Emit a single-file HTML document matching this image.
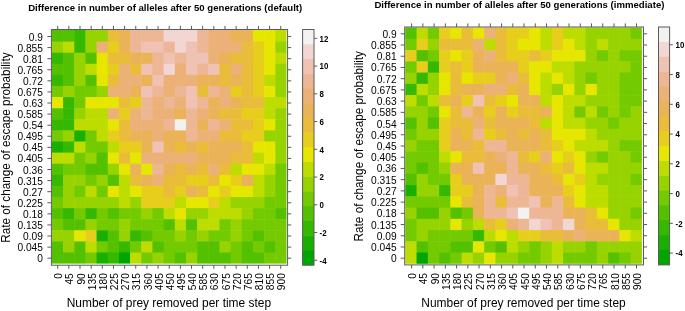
<!DOCTYPE html>
<html><head><meta charset="utf-8"><style>
html,body{margin:0;padding:0;background:#fff;width:685px;height:311px;overflow:hidden}
svg{display:block;filter:blur(0.4px)}
text{font-family:"Liberation Sans",sans-serif}
</style></head><body>
<svg width="685" height="311" viewBox="0 0 685 311">
<rect width="685" height="311" fill="#fff"/>
<rect x="51.90" y="30.00" width="11.67" height="12.10" fill="#53C100"/>
<rect x="63.07" y="30.00" width="11.67" height="12.10" fill="#53C100"/>
<rect x="74.24" y="30.00" width="11.67" height="12.10" fill="#35B800"/>
<rect x="85.41" y="30.00" width="11.67" height="12.10" fill="#97D300"/>
<rect x="96.59" y="30.00" width="11.67" height="12.10" fill="#97D300"/>
<rect x="107.76" y="30.00" width="11.67" height="12.10" fill="#E9BD3A"/>
<rect x="118.93" y="30.00" width="11.67" height="12.10" fill="#EAB358"/>
<rect x="130.10" y="30.00" width="11.67" height="12.10" fill="#EDB694"/>
<rect x="141.27" y="30.00" width="11.67" height="12.10" fill="#EDB694"/>
<rect x="152.44" y="30.00" width="11.67" height="12.10" fill="#EDB694"/>
<rect x="163.61" y="30.00" width="11.67" height="12.10" fill="#F1D6D3"/>
<rect x="174.79" y="30.00" width="11.67" height="12.10" fill="#F1D6D3"/>
<rect x="185.96" y="30.00" width="11.67" height="12.10" fill="#F1D6D3"/>
<rect x="197.13" y="30.00" width="11.67" height="12.10" fill="#EDB694"/>
<rect x="208.30" y="30.00" width="11.67" height="12.10" fill="#ECB176"/>
<rect x="219.47" y="30.00" width="11.67" height="12.10" fill="#ECB176"/>
<rect x="230.64" y="30.00" width="11.67" height="12.10" fill="#EAB358"/>
<rect x="241.81" y="30.00" width="11.67" height="12.10" fill="#EAB358"/>
<rect x="252.99" y="30.00" width="11.67" height="12.10" fill="#E6E600"/>
<rect x="264.16" y="30.00" width="11.67" height="12.10" fill="#E6E600"/>
<rect x="275.33" y="30.00" width="11.17" height="12.10" fill="#BDDC00"/>
<rect x="51.90" y="41.60" width="11.67" height="11.60" fill="#97D300"/>
<rect x="63.07" y="41.60" width="11.67" height="11.60" fill="#BDDC00"/>
<rect x="74.24" y="41.60" width="11.67" height="11.60" fill="#35B800"/>
<rect x="85.41" y="41.60" width="11.67" height="11.60" fill="#97D300"/>
<rect x="96.59" y="41.60" width="11.67" height="11.60" fill="#ECB176"/>
<rect x="107.76" y="41.60" width="11.67" height="11.60" fill="#E7CE1D"/>
<rect x="118.93" y="41.60" width="11.67" height="11.60" fill="#EAB358"/>
<rect x="130.10" y="41.60" width="11.67" height="11.60" fill="#EDB694"/>
<rect x="141.27" y="41.60" width="11.67" height="11.60" fill="#EFC2B3"/>
<rect x="152.44" y="41.60" width="11.67" height="11.60" fill="#EFC2B3"/>
<rect x="163.61" y="41.60" width="11.67" height="11.60" fill="#EDB694"/>
<rect x="174.79" y="41.60" width="11.67" height="11.60" fill="#F1D6D3"/>
<rect x="185.96" y="41.60" width="11.67" height="11.60" fill="#EFC2B3"/>
<rect x="197.13" y="41.60" width="11.67" height="11.60" fill="#EDB694"/>
<rect x="208.30" y="41.60" width="11.67" height="11.60" fill="#ECB176"/>
<rect x="219.47" y="41.60" width="11.67" height="11.60" fill="#ECB176"/>
<rect x="230.64" y="41.60" width="11.67" height="11.60" fill="#ECB176"/>
<rect x="241.81" y="41.60" width="11.67" height="11.60" fill="#E9BD3A"/>
<rect x="252.99" y="41.60" width="11.67" height="11.60" fill="#E7CE1D"/>
<rect x="264.16" y="41.60" width="11.67" height="11.60" fill="#E6E600"/>
<rect x="275.33" y="41.60" width="11.17" height="11.60" fill="#97D300"/>
<rect x="51.90" y="52.70" width="11.67" height="11.60" fill="#35B800"/>
<rect x="63.07" y="52.70" width="11.67" height="11.60" fill="#53C100"/>
<rect x="74.24" y="52.70" width="11.67" height="11.60" fill="#97D300"/>
<rect x="85.41" y="52.70" width="11.67" height="11.60" fill="#53C100"/>
<rect x="96.59" y="52.70" width="11.67" height="11.60" fill="#E6E600"/>
<rect x="107.76" y="52.70" width="11.67" height="11.60" fill="#E9BD3A"/>
<rect x="118.93" y="52.70" width="11.67" height="11.60" fill="#E9BD3A"/>
<rect x="130.10" y="52.70" width="11.67" height="11.60" fill="#EAB358"/>
<rect x="141.27" y="52.70" width="11.67" height="11.60" fill="#EAB358"/>
<rect x="152.44" y="52.70" width="11.67" height="11.60" fill="#EDB694"/>
<rect x="163.61" y="52.70" width="11.67" height="11.60" fill="#EFC2B3"/>
<rect x="174.79" y="52.70" width="11.67" height="11.60" fill="#EDB694"/>
<rect x="185.96" y="52.70" width="11.67" height="11.60" fill="#EFC2B3"/>
<rect x="197.13" y="52.70" width="11.67" height="11.60" fill="#EFC2B3"/>
<rect x="208.30" y="52.70" width="11.67" height="11.60" fill="#ECB176"/>
<rect x="219.47" y="52.70" width="11.67" height="11.60" fill="#EAB358"/>
<rect x="230.64" y="52.70" width="11.67" height="11.60" fill="#E9BD3A"/>
<rect x="241.81" y="52.70" width="11.67" height="11.60" fill="#E9BD3A"/>
<rect x="252.99" y="52.70" width="11.67" height="11.60" fill="#E7CE1D"/>
<rect x="264.16" y="52.70" width="11.67" height="11.60" fill="#E6E600"/>
<rect x="275.33" y="52.70" width="11.17" height="11.60" fill="#BDDC00"/>
<rect x="51.90" y="63.80" width="11.67" height="11.60" fill="#53C100"/>
<rect x="63.07" y="63.80" width="11.67" height="11.60" fill="#53C100"/>
<rect x="74.24" y="63.80" width="11.67" height="11.60" fill="#97D300"/>
<rect x="85.41" y="63.80" width="11.67" height="11.60" fill="#BDDC00"/>
<rect x="96.59" y="63.80" width="11.67" height="11.60" fill="#E6E600"/>
<rect x="107.76" y="63.80" width="11.67" height="11.60" fill="#E7CE1D"/>
<rect x="118.93" y="63.80" width="11.67" height="11.60" fill="#ECB176"/>
<rect x="130.10" y="63.80" width="11.67" height="11.60" fill="#E9BD3A"/>
<rect x="141.27" y="63.80" width="11.67" height="11.60" fill="#EFC2B3"/>
<rect x="152.44" y="63.80" width="11.67" height="11.60" fill="#EDB694"/>
<rect x="163.61" y="63.80" width="11.67" height="11.60" fill="#F1D6D3"/>
<rect x="174.79" y="63.80" width="11.67" height="11.60" fill="#ECB176"/>
<rect x="185.96" y="63.80" width="11.67" height="11.60" fill="#EFC2B3"/>
<rect x="197.13" y="63.80" width="11.67" height="11.60" fill="#EDB694"/>
<rect x="208.30" y="63.80" width="11.67" height="11.60" fill="#EFC2B3"/>
<rect x="219.47" y="63.80" width="11.67" height="11.60" fill="#E9BD3A"/>
<rect x="230.64" y="63.80" width="11.67" height="11.60" fill="#ECB176"/>
<rect x="241.81" y="63.80" width="11.67" height="11.60" fill="#E9BD3A"/>
<rect x="252.99" y="63.80" width="11.67" height="11.60" fill="#E7CE1D"/>
<rect x="264.16" y="63.80" width="11.67" height="11.60" fill="#E6E600"/>
<rect x="275.33" y="63.80" width="11.17" height="11.60" fill="#97D300"/>
<rect x="51.90" y="74.90" width="11.67" height="11.60" fill="#35B800"/>
<rect x="63.07" y="74.90" width="11.67" height="11.60" fill="#53C100"/>
<rect x="74.24" y="74.90" width="11.67" height="11.60" fill="#97D300"/>
<rect x="85.41" y="74.90" width="11.67" height="11.60" fill="#53C100"/>
<rect x="96.59" y="74.90" width="11.67" height="11.60" fill="#E6E600"/>
<rect x="107.76" y="74.90" width="11.67" height="11.60" fill="#E9BD3A"/>
<rect x="118.93" y="74.90" width="11.67" height="11.60" fill="#ECB176"/>
<rect x="130.10" y="74.90" width="11.67" height="11.60" fill="#ECB176"/>
<rect x="141.27" y="74.90" width="11.67" height="11.60" fill="#EAB358"/>
<rect x="152.44" y="74.90" width="11.67" height="11.60" fill="#EFC2B3"/>
<rect x="163.61" y="74.90" width="11.67" height="11.60" fill="#ECB176"/>
<rect x="174.79" y="74.90" width="11.67" height="11.60" fill="#ECB176"/>
<rect x="185.96" y="74.90" width="11.67" height="11.60" fill="#ECB176"/>
<rect x="197.13" y="74.90" width="11.67" height="11.60" fill="#EAB358"/>
<rect x="208.30" y="74.90" width="11.67" height="11.60" fill="#EAB358"/>
<rect x="219.47" y="74.90" width="11.67" height="11.60" fill="#E9BD3A"/>
<rect x="230.64" y="74.90" width="11.67" height="11.60" fill="#EAB358"/>
<rect x="241.81" y="74.90" width="11.67" height="11.60" fill="#E9BD3A"/>
<rect x="252.99" y="74.90" width="11.67" height="11.60" fill="#E7CE1D"/>
<rect x="264.16" y="74.90" width="11.67" height="11.60" fill="#BDDC00"/>
<rect x="275.33" y="74.90" width="11.17" height="11.60" fill="#97D300"/>
<rect x="51.90" y="86.00" width="11.67" height="11.60" fill="#74CA00"/>
<rect x="63.07" y="86.00" width="11.67" height="11.60" fill="#97D300"/>
<rect x="74.24" y="86.00" width="11.67" height="11.60" fill="#74CA00"/>
<rect x="85.41" y="86.00" width="11.67" height="11.60" fill="#74CA00"/>
<rect x="96.59" y="86.00" width="11.67" height="11.60" fill="#97D300"/>
<rect x="107.76" y="86.00" width="11.67" height="11.60" fill="#ECB176"/>
<rect x="118.93" y="86.00" width="11.67" height="11.60" fill="#ECB176"/>
<rect x="130.10" y="86.00" width="11.67" height="11.60" fill="#EAB358"/>
<rect x="141.27" y="86.00" width="11.67" height="11.60" fill="#EFC2B3"/>
<rect x="152.44" y="86.00" width="11.67" height="11.60" fill="#EDB694"/>
<rect x="163.61" y="86.00" width="11.67" height="11.60" fill="#ECB176"/>
<rect x="174.79" y="86.00" width="11.67" height="11.60" fill="#EDB694"/>
<rect x="185.96" y="86.00" width="11.67" height="11.60" fill="#EFC2B3"/>
<rect x="197.13" y="86.00" width="11.67" height="11.60" fill="#E9BD3A"/>
<rect x="208.30" y="86.00" width="11.67" height="11.60" fill="#EDB694"/>
<rect x="219.47" y="86.00" width="11.67" height="11.60" fill="#ECB176"/>
<rect x="230.64" y="86.00" width="11.67" height="11.60" fill="#E7CE1D"/>
<rect x="241.81" y="86.00" width="11.67" height="11.60" fill="#E9BD3A"/>
<rect x="252.99" y="86.00" width="11.67" height="11.60" fill="#E7CE1D"/>
<rect x="264.16" y="86.00" width="11.67" height="11.60" fill="#E6E600"/>
<rect x="275.33" y="86.00" width="11.17" height="11.60" fill="#97D300"/>
<rect x="51.90" y="97.10" width="11.67" height="11.60" fill="#E6E600"/>
<rect x="63.07" y="97.10" width="11.67" height="11.60" fill="#35B800"/>
<rect x="74.24" y="97.10" width="11.67" height="11.60" fill="#74CA00"/>
<rect x="85.41" y="97.10" width="11.67" height="11.60" fill="#E6E600"/>
<rect x="96.59" y="97.10" width="11.67" height="11.60" fill="#E6E600"/>
<rect x="107.76" y="97.10" width="11.67" height="11.60" fill="#E6E600"/>
<rect x="118.93" y="97.10" width="11.67" height="11.60" fill="#E9BD3A"/>
<rect x="130.10" y="97.10" width="11.67" height="11.60" fill="#E7CE1D"/>
<rect x="141.27" y="97.10" width="11.67" height="11.60" fill="#EDB694"/>
<rect x="152.44" y="97.10" width="11.67" height="11.60" fill="#ECB176"/>
<rect x="163.61" y="97.10" width="11.67" height="11.60" fill="#EDB694"/>
<rect x="174.79" y="97.10" width="11.67" height="11.60" fill="#ECB176"/>
<rect x="185.96" y="97.10" width="11.67" height="11.60" fill="#EFC2B3"/>
<rect x="197.13" y="97.10" width="11.67" height="11.60" fill="#EDB694"/>
<rect x="208.30" y="97.10" width="11.67" height="11.60" fill="#EAB358"/>
<rect x="219.47" y="97.10" width="11.67" height="11.60" fill="#ECB176"/>
<rect x="230.64" y="97.10" width="11.67" height="11.60" fill="#EAB358"/>
<rect x="241.81" y="97.10" width="11.67" height="11.60" fill="#E9BD3A"/>
<rect x="252.99" y="97.10" width="11.67" height="11.60" fill="#E9BD3A"/>
<rect x="264.16" y="97.10" width="11.67" height="11.60" fill="#BDDC00"/>
<rect x="275.33" y="97.10" width="11.17" height="11.60" fill="#BDDC00"/>
<rect x="51.90" y="108.20" width="11.67" height="11.60" fill="#53C100"/>
<rect x="63.07" y="108.20" width="11.67" height="11.60" fill="#35B800"/>
<rect x="74.24" y="108.20" width="11.67" height="11.60" fill="#97D300"/>
<rect x="85.41" y="108.20" width="11.67" height="11.60" fill="#BDDC00"/>
<rect x="96.59" y="108.20" width="11.67" height="11.60" fill="#BDDC00"/>
<rect x="107.76" y="108.20" width="11.67" height="11.60" fill="#ECB176"/>
<rect x="118.93" y="108.20" width="11.67" height="11.60" fill="#E7CE1D"/>
<rect x="130.10" y="108.20" width="11.67" height="11.60" fill="#ECB176"/>
<rect x="141.27" y="108.20" width="11.67" height="11.60" fill="#EDB694"/>
<rect x="152.44" y="108.20" width="11.67" height="11.60" fill="#ECB176"/>
<rect x="163.61" y="108.20" width="11.67" height="11.60" fill="#ECB176"/>
<rect x="174.79" y="108.20" width="11.67" height="11.60" fill="#EAB358"/>
<rect x="185.96" y="108.20" width="11.67" height="11.60" fill="#EDB694"/>
<rect x="197.13" y="108.20" width="11.67" height="11.60" fill="#ECB176"/>
<rect x="208.30" y="108.20" width="11.67" height="11.60" fill="#EAB358"/>
<rect x="219.47" y="108.20" width="11.67" height="11.60" fill="#E9BD3A"/>
<rect x="230.64" y="108.20" width="11.67" height="11.60" fill="#E9BD3A"/>
<rect x="241.81" y="108.20" width="11.67" height="11.60" fill="#E7CE1D"/>
<rect x="252.99" y="108.20" width="11.67" height="11.60" fill="#E7CE1D"/>
<rect x="264.16" y="108.20" width="11.67" height="11.60" fill="#BDDC00"/>
<rect x="275.33" y="108.20" width="11.17" height="11.60" fill="#97D300"/>
<rect x="51.90" y="119.30" width="11.67" height="11.60" fill="#35B800"/>
<rect x="63.07" y="119.30" width="11.67" height="11.60" fill="#35B800"/>
<rect x="74.24" y="119.30" width="11.67" height="11.60" fill="#BDDC00"/>
<rect x="85.41" y="119.30" width="11.67" height="11.60" fill="#BDDC00"/>
<rect x="96.59" y="119.30" width="11.67" height="11.60" fill="#BDDC00"/>
<rect x="107.76" y="119.30" width="11.67" height="11.60" fill="#E6E600"/>
<rect x="118.93" y="119.30" width="11.67" height="11.60" fill="#E9BD3A"/>
<rect x="130.10" y="119.30" width="11.67" height="11.60" fill="#ECB176"/>
<rect x="141.27" y="119.30" width="11.67" height="11.60" fill="#ECB176"/>
<rect x="152.44" y="119.30" width="11.67" height="11.60" fill="#ECB176"/>
<rect x="163.61" y="119.30" width="11.67" height="11.60" fill="#EDB694"/>
<rect x="174.79" y="119.30" width="11.67" height="11.60" fill="#F2F2F2"/>
<rect x="185.96" y="119.30" width="11.67" height="11.60" fill="#EDB694"/>
<rect x="197.13" y="119.30" width="11.67" height="11.60" fill="#EAB358"/>
<rect x="208.30" y="119.30" width="11.67" height="11.60" fill="#EDB694"/>
<rect x="219.47" y="119.30" width="11.67" height="11.60" fill="#ECB176"/>
<rect x="230.64" y="119.30" width="11.67" height="11.60" fill="#E9BD3A"/>
<rect x="241.81" y="119.30" width="11.67" height="11.60" fill="#E9BD3A"/>
<rect x="252.99" y="119.30" width="11.67" height="11.60" fill="#E7CE1D"/>
<rect x="264.16" y="119.30" width="11.67" height="11.60" fill="#E6E600"/>
<rect x="275.33" y="119.30" width="11.17" height="11.60" fill="#97D300"/>
<rect x="51.90" y="130.40" width="11.67" height="11.60" fill="#74CA00"/>
<rect x="63.07" y="130.40" width="11.67" height="11.60" fill="#97D300"/>
<rect x="74.24" y="130.40" width="11.67" height="11.60" fill="#19AF00"/>
<rect x="85.41" y="130.40" width="11.67" height="11.60" fill="#74CA00"/>
<rect x="96.59" y="130.40" width="11.67" height="11.60" fill="#BDDC00"/>
<rect x="107.76" y="130.40" width="11.67" height="11.60" fill="#E7CE1D"/>
<rect x="118.93" y="130.40" width="11.67" height="11.60" fill="#E9BD3A"/>
<rect x="130.10" y="130.40" width="11.67" height="11.60" fill="#EAB358"/>
<rect x="141.27" y="130.40" width="11.67" height="11.60" fill="#EAB358"/>
<rect x="152.44" y="130.40" width="11.67" height="11.60" fill="#ECB176"/>
<rect x="163.61" y="130.40" width="11.67" height="11.60" fill="#EAB358"/>
<rect x="174.79" y="130.40" width="11.67" height="11.60" fill="#EAB358"/>
<rect x="185.96" y="130.40" width="11.67" height="11.60" fill="#EDB694"/>
<rect x="197.13" y="130.40" width="11.67" height="11.60" fill="#ECB176"/>
<rect x="208.30" y="130.40" width="11.67" height="11.60" fill="#ECB176"/>
<rect x="219.47" y="130.40" width="11.67" height="11.60" fill="#E9BD3A"/>
<rect x="230.64" y="130.40" width="11.67" height="11.60" fill="#E9BD3A"/>
<rect x="241.81" y="130.40" width="11.67" height="11.60" fill="#E7CE1D"/>
<rect x="252.99" y="130.40" width="11.67" height="11.60" fill="#E7CE1D"/>
<rect x="264.16" y="130.40" width="11.67" height="11.60" fill="#97D300"/>
<rect x="275.33" y="130.40" width="11.17" height="11.60" fill="#97D300"/>
<rect x="51.90" y="141.50" width="11.67" height="11.60" fill="#19AF00"/>
<rect x="63.07" y="141.50" width="11.67" height="11.60" fill="#35B800"/>
<rect x="74.24" y="141.50" width="11.67" height="11.60" fill="#BDDC00"/>
<rect x="85.41" y="141.50" width="11.67" height="11.60" fill="#74CA00"/>
<rect x="96.59" y="141.50" width="11.67" height="11.60" fill="#74CA00"/>
<rect x="107.76" y="141.50" width="11.67" height="11.60" fill="#BDDC00"/>
<rect x="118.93" y="141.50" width="11.67" height="11.60" fill="#E7CE1D"/>
<rect x="130.10" y="141.50" width="11.67" height="11.60" fill="#E7CE1D"/>
<rect x="141.27" y="141.50" width="11.67" height="11.60" fill="#EAB358"/>
<rect x="152.44" y="141.50" width="11.67" height="11.60" fill="#EFC2B3"/>
<rect x="163.61" y="141.50" width="11.67" height="11.60" fill="#EAB358"/>
<rect x="174.79" y="141.50" width="11.67" height="11.60" fill="#E9BD3A"/>
<rect x="185.96" y="141.50" width="11.67" height="11.60" fill="#EAB358"/>
<rect x="197.13" y="141.50" width="11.67" height="11.60" fill="#E9BD3A"/>
<rect x="208.30" y="141.50" width="11.67" height="11.60" fill="#EAB358"/>
<rect x="219.47" y="141.50" width="11.67" height="11.60" fill="#EAB358"/>
<rect x="230.64" y="141.50" width="11.67" height="11.60" fill="#EAB358"/>
<rect x="241.81" y="141.50" width="11.67" height="11.60" fill="#E9BD3A"/>
<rect x="252.99" y="141.50" width="11.67" height="11.60" fill="#E6E600"/>
<rect x="264.16" y="141.50" width="11.67" height="11.60" fill="#E6E600"/>
<rect x="275.33" y="141.50" width="11.17" height="11.60" fill="#97D300"/>
<rect x="51.90" y="152.60" width="11.67" height="11.60" fill="#BDDC00"/>
<rect x="63.07" y="152.60" width="11.67" height="11.60" fill="#BDDC00"/>
<rect x="74.24" y="152.60" width="11.67" height="11.60" fill="#74CA00"/>
<rect x="85.41" y="152.60" width="11.67" height="11.60" fill="#97D300"/>
<rect x="96.59" y="152.60" width="11.67" height="11.60" fill="#53C100"/>
<rect x="107.76" y="152.60" width="11.67" height="11.60" fill="#E6E600"/>
<rect x="118.93" y="152.60" width="11.67" height="11.60" fill="#E9BD3A"/>
<rect x="130.10" y="152.60" width="11.67" height="11.60" fill="#E6E600"/>
<rect x="141.27" y="152.60" width="11.67" height="11.60" fill="#ECB176"/>
<rect x="152.44" y="152.60" width="11.67" height="11.60" fill="#ECB176"/>
<rect x="163.61" y="152.60" width="11.67" height="11.60" fill="#ECB176"/>
<rect x="174.79" y="152.60" width="11.67" height="11.60" fill="#ECB176"/>
<rect x="185.96" y="152.60" width="11.67" height="11.60" fill="#ECB176"/>
<rect x="197.13" y="152.60" width="11.67" height="11.60" fill="#EAB358"/>
<rect x="208.30" y="152.60" width="11.67" height="11.60" fill="#EAB358"/>
<rect x="219.47" y="152.60" width="11.67" height="11.60" fill="#EAB358"/>
<rect x="230.64" y="152.60" width="11.67" height="11.60" fill="#E9BD3A"/>
<rect x="241.81" y="152.60" width="11.67" height="11.60" fill="#E9BD3A"/>
<rect x="252.99" y="152.60" width="11.67" height="11.60" fill="#BDDC00"/>
<rect x="264.16" y="152.60" width="11.67" height="11.60" fill="#E6E600"/>
<rect x="275.33" y="152.60" width="11.17" height="11.60" fill="#97D300"/>
<rect x="51.90" y="163.70" width="11.67" height="11.60" fill="#53C100"/>
<rect x="63.07" y="163.70" width="11.67" height="11.60" fill="#74CA00"/>
<rect x="74.24" y="163.70" width="11.67" height="11.60" fill="#74CA00"/>
<rect x="85.41" y="163.70" width="11.67" height="11.60" fill="#53C100"/>
<rect x="96.59" y="163.70" width="11.67" height="11.60" fill="#53C100"/>
<rect x="107.76" y="163.70" width="11.67" height="11.60" fill="#97D300"/>
<rect x="118.93" y="163.70" width="11.67" height="11.60" fill="#E6E600"/>
<rect x="130.10" y="163.70" width="11.67" height="11.60" fill="#EAB358"/>
<rect x="141.27" y="163.70" width="11.67" height="11.60" fill="#E6E600"/>
<rect x="152.44" y="163.70" width="11.67" height="11.60" fill="#EDB694"/>
<rect x="163.61" y="163.70" width="11.67" height="11.60" fill="#EAB358"/>
<rect x="174.79" y="163.70" width="11.67" height="11.60" fill="#E9BD3A"/>
<rect x="185.96" y="163.70" width="11.67" height="11.60" fill="#EAB358"/>
<rect x="197.13" y="163.70" width="11.67" height="11.60" fill="#E9BD3A"/>
<rect x="208.30" y="163.70" width="11.67" height="11.60" fill="#ECB176"/>
<rect x="219.47" y="163.70" width="11.67" height="11.60" fill="#E9BD3A"/>
<rect x="230.64" y="163.70" width="11.67" height="11.60" fill="#BDDC00"/>
<rect x="241.81" y="163.70" width="11.67" height="11.60" fill="#E6E600"/>
<rect x="252.99" y="163.70" width="11.67" height="11.60" fill="#E6E600"/>
<rect x="264.16" y="163.70" width="11.67" height="11.60" fill="#BDDC00"/>
<rect x="275.33" y="163.70" width="11.17" height="11.60" fill="#74CA00"/>
<rect x="51.90" y="174.80" width="11.67" height="11.60" fill="#35B800"/>
<rect x="63.07" y="174.80" width="11.67" height="11.60" fill="#97D300"/>
<rect x="74.24" y="174.80" width="11.67" height="11.60" fill="#97D300"/>
<rect x="85.41" y="174.80" width="11.67" height="11.60" fill="#74CA00"/>
<rect x="96.59" y="174.80" width="11.67" height="11.60" fill="#97D300"/>
<rect x="107.76" y="174.80" width="11.67" height="11.60" fill="#53C100"/>
<rect x="118.93" y="174.80" width="11.67" height="11.60" fill="#BDDC00"/>
<rect x="130.10" y="174.80" width="11.67" height="11.60" fill="#E9BD3A"/>
<rect x="141.27" y="174.80" width="11.67" height="11.60" fill="#EAB358"/>
<rect x="152.44" y="174.80" width="11.67" height="11.60" fill="#ECB176"/>
<rect x="163.61" y="174.80" width="11.67" height="11.60" fill="#E9BD3A"/>
<rect x="174.79" y="174.80" width="11.67" height="11.60" fill="#E9BD3A"/>
<rect x="185.96" y="174.80" width="11.67" height="11.60" fill="#E7CE1D"/>
<rect x="197.13" y="174.80" width="11.67" height="11.60" fill="#E7CE1D"/>
<rect x="208.30" y="174.80" width="11.67" height="11.60" fill="#E9BD3A"/>
<rect x="219.47" y="174.80" width="11.67" height="11.60" fill="#E6E600"/>
<rect x="230.64" y="174.80" width="11.67" height="11.60" fill="#E7CE1D"/>
<rect x="241.81" y="174.80" width="11.67" height="11.60" fill="#EAB358"/>
<rect x="252.99" y="174.80" width="11.67" height="11.60" fill="#BDDC00"/>
<rect x="264.16" y="174.80" width="11.67" height="11.60" fill="#97D300"/>
<rect x="275.33" y="174.80" width="11.17" height="11.60" fill="#74CA00"/>
<rect x="51.90" y="185.90" width="11.67" height="11.60" fill="#53C100"/>
<rect x="63.07" y="185.90" width="11.67" height="11.60" fill="#97D300"/>
<rect x="74.24" y="185.90" width="11.67" height="11.60" fill="#74CA00"/>
<rect x="85.41" y="185.90" width="11.67" height="11.60" fill="#BDDC00"/>
<rect x="96.59" y="185.90" width="11.67" height="11.60" fill="#74CA00"/>
<rect x="107.76" y="185.90" width="11.67" height="11.60" fill="#E6E600"/>
<rect x="118.93" y="185.90" width="11.67" height="11.60" fill="#BDDC00"/>
<rect x="130.10" y="185.90" width="11.67" height="11.60" fill="#E6E600"/>
<rect x="141.27" y="185.90" width="11.67" height="11.60" fill="#E7CE1D"/>
<rect x="152.44" y="185.90" width="11.67" height="11.60" fill="#E7CE1D"/>
<rect x="163.61" y="185.90" width="11.67" height="11.60" fill="#E9BD3A"/>
<rect x="174.79" y="185.90" width="11.67" height="11.60" fill="#E7CE1D"/>
<rect x="185.96" y="185.90" width="11.67" height="11.60" fill="#EAB358"/>
<rect x="197.13" y="185.90" width="11.67" height="11.60" fill="#E9BD3A"/>
<rect x="208.30" y="185.90" width="11.67" height="11.60" fill="#E6E600"/>
<rect x="219.47" y="185.90" width="11.67" height="11.60" fill="#E7CE1D"/>
<rect x="230.64" y="185.90" width="11.67" height="11.60" fill="#E6E600"/>
<rect x="241.81" y="185.90" width="11.67" height="11.60" fill="#E6E600"/>
<rect x="252.99" y="185.90" width="11.67" height="11.60" fill="#BDDC00"/>
<rect x="264.16" y="185.90" width="11.67" height="11.60" fill="#97D300"/>
<rect x="275.33" y="185.90" width="11.17" height="11.60" fill="#74CA00"/>
<rect x="51.90" y="197.00" width="11.67" height="11.60" fill="#74CA00"/>
<rect x="63.07" y="197.00" width="11.67" height="11.60" fill="#97D300"/>
<rect x="74.24" y="197.00" width="11.67" height="11.60" fill="#97D300"/>
<rect x="85.41" y="197.00" width="11.67" height="11.60" fill="#97D300"/>
<rect x="96.59" y="197.00" width="11.67" height="11.60" fill="#97D300"/>
<rect x="107.76" y="197.00" width="11.67" height="11.60" fill="#97D300"/>
<rect x="118.93" y="197.00" width="11.67" height="11.60" fill="#BDDC00"/>
<rect x="130.10" y="197.00" width="11.67" height="11.60" fill="#97D300"/>
<rect x="141.27" y="197.00" width="11.67" height="11.60" fill="#E7CE1D"/>
<rect x="152.44" y="197.00" width="11.67" height="11.60" fill="#E7CE1D"/>
<rect x="163.61" y="197.00" width="11.67" height="11.60" fill="#E7CE1D"/>
<rect x="174.79" y="197.00" width="11.67" height="11.60" fill="#BDDC00"/>
<rect x="185.96" y="197.00" width="11.67" height="11.60" fill="#E6E600"/>
<rect x="197.13" y="197.00" width="11.67" height="11.60" fill="#E6E600"/>
<rect x="208.30" y="197.00" width="11.67" height="11.60" fill="#E7CE1D"/>
<rect x="219.47" y="197.00" width="11.67" height="11.60" fill="#BDDC00"/>
<rect x="230.64" y="197.00" width="11.67" height="11.60" fill="#97D300"/>
<rect x="241.81" y="197.00" width="11.67" height="11.60" fill="#97D300"/>
<rect x="252.99" y="197.00" width="11.67" height="11.60" fill="#97D300"/>
<rect x="264.16" y="197.00" width="11.67" height="11.60" fill="#74CA00"/>
<rect x="275.33" y="197.00" width="11.17" height="11.60" fill="#74CA00"/>
<rect x="51.90" y="208.10" width="11.67" height="11.60" fill="#53C100"/>
<rect x="63.07" y="208.10" width="11.67" height="11.60" fill="#35B800"/>
<rect x="74.24" y="208.10" width="11.67" height="11.60" fill="#74CA00"/>
<rect x="85.41" y="208.10" width="11.67" height="11.60" fill="#35B800"/>
<rect x="96.59" y="208.10" width="11.67" height="11.60" fill="#74CA00"/>
<rect x="107.76" y="208.10" width="11.67" height="11.60" fill="#53C100"/>
<rect x="118.93" y="208.10" width="11.67" height="11.60" fill="#74CA00"/>
<rect x="130.10" y="208.10" width="11.67" height="11.60" fill="#74CA00"/>
<rect x="141.27" y="208.10" width="11.67" height="11.60" fill="#97D300"/>
<rect x="152.44" y="208.10" width="11.67" height="11.60" fill="#74CA00"/>
<rect x="163.61" y="208.10" width="11.67" height="11.60" fill="#BDDC00"/>
<rect x="174.79" y="208.10" width="11.67" height="11.60" fill="#E6E600"/>
<rect x="185.96" y="208.10" width="11.67" height="11.60" fill="#97D300"/>
<rect x="197.13" y="208.10" width="11.67" height="11.60" fill="#97D300"/>
<rect x="208.30" y="208.10" width="11.67" height="11.60" fill="#BDDC00"/>
<rect x="219.47" y="208.10" width="11.67" height="11.60" fill="#BDDC00"/>
<rect x="230.64" y="208.10" width="11.67" height="11.60" fill="#BDDC00"/>
<rect x="241.81" y="208.10" width="11.67" height="11.60" fill="#97D300"/>
<rect x="252.99" y="208.10" width="11.67" height="11.60" fill="#74CA00"/>
<rect x="264.16" y="208.10" width="11.67" height="11.60" fill="#74CA00"/>
<rect x="275.33" y="208.10" width="11.17" height="11.60" fill="#53C100"/>
<rect x="51.90" y="219.20" width="11.67" height="11.60" fill="#74CA00"/>
<rect x="63.07" y="219.20" width="11.67" height="11.60" fill="#53C100"/>
<rect x="74.24" y="219.20" width="11.67" height="11.60" fill="#53C100"/>
<rect x="85.41" y="219.20" width="11.67" height="11.60" fill="#97D300"/>
<rect x="96.59" y="219.20" width="11.67" height="11.60" fill="#74CA00"/>
<rect x="107.76" y="219.20" width="11.67" height="11.60" fill="#74CA00"/>
<rect x="118.93" y="219.20" width="11.67" height="11.60" fill="#97D300"/>
<rect x="130.10" y="219.20" width="11.67" height="11.60" fill="#74CA00"/>
<rect x="141.27" y="219.20" width="11.67" height="11.60" fill="#74CA00"/>
<rect x="152.44" y="219.20" width="11.67" height="11.60" fill="#74CA00"/>
<rect x="163.61" y="219.20" width="11.67" height="11.60" fill="#53C100"/>
<rect x="174.79" y="219.20" width="11.67" height="11.60" fill="#BDDC00"/>
<rect x="185.96" y="219.20" width="11.67" height="11.60" fill="#53C100"/>
<rect x="197.13" y="219.20" width="11.67" height="11.60" fill="#BDDC00"/>
<rect x="208.30" y="219.20" width="11.67" height="11.60" fill="#BDDC00"/>
<rect x="219.47" y="219.20" width="11.67" height="11.60" fill="#74CA00"/>
<rect x="230.64" y="219.20" width="11.67" height="11.60" fill="#97D300"/>
<rect x="241.81" y="219.20" width="11.67" height="11.60" fill="#74CA00"/>
<rect x="252.99" y="219.20" width="11.67" height="11.60" fill="#74CA00"/>
<rect x="264.16" y="219.20" width="11.67" height="11.60" fill="#74CA00"/>
<rect x="275.33" y="219.20" width="11.17" height="11.60" fill="#74CA00"/>
<rect x="51.90" y="230.30" width="11.67" height="11.60" fill="#97D300"/>
<rect x="63.07" y="230.30" width="11.67" height="11.60" fill="#97D300"/>
<rect x="74.24" y="230.30" width="11.67" height="11.60" fill="#E6E600"/>
<rect x="85.41" y="230.30" width="11.67" height="11.60" fill="#E7CE1D"/>
<rect x="96.59" y="230.30" width="11.67" height="11.60" fill="#19AF00"/>
<rect x="107.76" y="230.30" width="11.67" height="11.60" fill="#53C100"/>
<rect x="118.93" y="230.30" width="11.67" height="11.60" fill="#97D300"/>
<rect x="130.10" y="230.30" width="11.67" height="11.60" fill="#35B800"/>
<rect x="141.27" y="230.30" width="11.67" height="11.60" fill="#53C100"/>
<rect x="152.44" y="230.30" width="11.67" height="11.60" fill="#74CA00"/>
<rect x="163.61" y="230.30" width="11.67" height="11.60" fill="#74CA00"/>
<rect x="174.79" y="230.30" width="11.67" height="11.60" fill="#97D300"/>
<rect x="185.96" y="230.30" width="11.67" height="11.60" fill="#74CA00"/>
<rect x="197.13" y="230.30" width="11.67" height="11.60" fill="#97D300"/>
<rect x="208.30" y="230.30" width="11.67" height="11.60" fill="#74CA00"/>
<rect x="219.47" y="230.30" width="11.67" height="11.60" fill="#74CA00"/>
<rect x="230.64" y="230.30" width="11.67" height="11.60" fill="#97D300"/>
<rect x="241.81" y="230.30" width="11.67" height="11.60" fill="#74CA00"/>
<rect x="252.99" y="230.30" width="11.67" height="11.60" fill="#53C100"/>
<rect x="264.16" y="230.30" width="11.67" height="11.60" fill="#74CA00"/>
<rect x="275.33" y="230.30" width="11.17" height="11.60" fill="#74CA00"/>
<rect x="51.90" y="241.40" width="11.67" height="11.60" fill="#53C100"/>
<rect x="63.07" y="241.40" width="11.67" height="11.60" fill="#97D300"/>
<rect x="74.24" y="241.40" width="11.67" height="11.60" fill="#53C100"/>
<rect x="85.41" y="241.40" width="11.67" height="11.60" fill="#BDDC00"/>
<rect x="96.59" y="241.40" width="11.67" height="11.60" fill="#74CA00"/>
<rect x="107.76" y="241.40" width="11.67" height="11.60" fill="#53C100"/>
<rect x="118.93" y="241.40" width="11.67" height="11.60" fill="#35B800"/>
<rect x="130.10" y="241.40" width="11.67" height="11.60" fill="#74CA00"/>
<rect x="141.27" y="241.40" width="11.67" height="11.60" fill="#BDDC00"/>
<rect x="152.44" y="241.40" width="11.67" height="11.60" fill="#53C100"/>
<rect x="163.61" y="241.40" width="11.67" height="11.60" fill="#74CA00"/>
<rect x="174.79" y="241.40" width="11.67" height="11.60" fill="#74CA00"/>
<rect x="185.96" y="241.40" width="11.67" height="11.60" fill="#74CA00"/>
<rect x="197.13" y="241.40" width="11.67" height="11.60" fill="#53C100"/>
<rect x="208.30" y="241.40" width="11.67" height="11.60" fill="#53C100"/>
<rect x="219.47" y="241.40" width="11.67" height="11.60" fill="#97D300"/>
<rect x="230.64" y="241.40" width="11.67" height="11.60" fill="#74CA00"/>
<rect x="241.81" y="241.40" width="11.67" height="11.60" fill="#53C100"/>
<rect x="252.99" y="241.40" width="11.67" height="11.60" fill="#74CA00"/>
<rect x="264.16" y="241.40" width="11.67" height="11.60" fill="#53C100"/>
<rect x="275.33" y="241.40" width="11.17" height="11.60" fill="#74CA00"/>
<rect x="51.90" y="252.50" width="11.67" height="11.10" fill="#53C100"/>
<rect x="63.07" y="252.50" width="11.67" height="11.10" fill="#53C100"/>
<rect x="74.24" y="252.50" width="11.67" height="11.10" fill="#53C100"/>
<rect x="85.41" y="252.50" width="11.67" height="11.10" fill="#74CA00"/>
<rect x="96.59" y="252.50" width="11.67" height="11.10" fill="#19AF00"/>
<rect x="107.76" y="252.50" width="11.67" height="11.10" fill="#35B800"/>
<rect x="118.93" y="252.50" width="11.67" height="11.10" fill="#00A600"/>
<rect x="130.10" y="252.50" width="11.67" height="11.10" fill="#BDDC00"/>
<rect x="141.27" y="252.50" width="11.67" height="11.10" fill="#74CA00"/>
<rect x="152.44" y="252.50" width="11.67" height="11.10" fill="#97D300"/>
<rect x="163.61" y="252.50" width="11.67" height="11.10" fill="#74CA00"/>
<rect x="174.79" y="252.50" width="11.67" height="11.10" fill="#53C100"/>
<rect x="185.96" y="252.50" width="11.67" height="11.10" fill="#97D300"/>
<rect x="197.13" y="252.50" width="11.67" height="11.10" fill="#53C100"/>
<rect x="208.30" y="252.50" width="11.67" height="11.10" fill="#53C100"/>
<rect x="219.47" y="252.50" width="11.67" height="11.10" fill="#53C100"/>
<rect x="230.64" y="252.50" width="11.67" height="11.10" fill="#74CA00"/>
<rect x="241.81" y="252.50" width="11.67" height="11.10" fill="#53C100"/>
<rect x="252.99" y="252.50" width="11.67" height="11.10" fill="#53C100"/>
<rect x="264.16" y="252.50" width="11.67" height="11.10" fill="#74CA00"/>
<rect x="275.33" y="252.50" width="11.17" height="11.10" fill="#74CA00"/>
<rect x="51.40" y="29.50" width="236.20" height="235.70" fill="none" stroke="#5a5a5a" stroke-width="1"/>
<path d="M57.70 29.50V25.90M57.70 265.20V268.80M51.40 36.50H47.40M287.60 36.50H291.20M68.85 29.50V25.90M68.85 265.20V268.80M51.40 47.59H47.40M287.60 47.59H291.20M80.00 29.50V25.90M80.00 265.20V268.80M51.40 58.67H47.40M287.60 58.67H291.20M91.16 29.50V25.90M91.16 265.20V268.80M51.40 69.75H47.40M287.60 69.75H291.20M102.31 29.50V25.90M102.31 265.20V268.80M51.40 80.84H47.40M287.60 80.84H291.20M113.46 29.50V25.90M113.46 265.20V268.80M51.40 91.93H47.40M287.60 91.93H291.20M124.61 29.50V25.90M124.61 265.20V268.80M51.40 103.01H47.40M287.60 103.01H291.20M135.76 29.50V25.90M135.76 265.20V268.80M51.40 114.09H47.40M287.60 114.09H291.20M146.92 29.50V25.90M146.92 265.20V268.80M51.40 125.18H47.40M287.60 125.18H291.20M158.07 29.50V25.90M158.07 265.20V268.80M51.40 136.27H47.40M287.60 136.27H291.20M169.22 29.50V25.90M169.22 265.20V268.80M51.40 147.35H47.40M287.60 147.35H291.20M180.37 29.50V25.90M180.37 265.20V268.80M51.40 158.44H47.40M287.60 158.44H291.20M191.52 29.50V25.90M191.52 265.20V268.80M51.40 169.52H47.40M287.60 169.52H291.20M202.68 29.50V25.90M202.68 265.20V268.80M51.40 180.61H47.40M287.60 180.61H291.20M213.83 29.50V25.90M213.83 265.20V268.80M51.40 191.69H47.40M287.60 191.69H291.20M224.98 29.50V25.90M224.98 265.20V268.80M51.40 202.78H47.40M287.60 202.78H291.20M236.13 29.50V25.90M236.13 265.20V268.80M51.40 213.86H47.40M287.60 213.86H291.20M247.28 29.50V25.90M247.28 265.20V268.80M51.40 224.95H47.40M287.60 224.95H291.20M258.44 29.50V25.90M258.44 265.20V268.80M51.40 236.03H47.40M287.60 236.03H291.20M269.59 29.50V25.90M269.59 265.20V268.80M51.40 247.12H47.40M287.60 247.12H291.20M280.74 29.50V25.90M280.74 265.20V268.80M51.40 258.20H47.40M287.60 258.20H291.20" stroke="#5a5a5a" stroke-width="1" fill="none"/>
<text x="42.90" y="40.50" text-anchor="end" font-size="10.2" fill="#000">0.9</text>
<text x="42.90" y="51.59" text-anchor="end" font-size="10.2" fill="#000">0.855</text>
<text x="42.90" y="62.67" text-anchor="end" font-size="10.2" fill="#000">0.81</text>
<text x="42.90" y="73.75" text-anchor="end" font-size="10.2" fill="#000">0.765</text>
<text x="42.90" y="84.84" text-anchor="end" font-size="10.2" fill="#000">0.72</text>
<text x="42.90" y="95.93" text-anchor="end" font-size="10.2" fill="#000">0.675</text>
<text x="42.90" y="107.01" text-anchor="end" font-size="10.2" fill="#000">0.63</text>
<text x="42.90" y="118.09" text-anchor="end" font-size="10.2" fill="#000">0.585</text>
<text x="42.90" y="129.18" text-anchor="end" font-size="10.2" fill="#000">0.54</text>
<text x="42.90" y="140.27" text-anchor="end" font-size="10.2" fill="#000">0.495</text>
<text x="42.90" y="151.35" text-anchor="end" font-size="10.2" fill="#000">0.45</text>
<text x="42.90" y="162.44" text-anchor="end" font-size="10.2" fill="#000">0.405</text>
<text x="42.90" y="173.52" text-anchor="end" font-size="10.2" fill="#000">0.36</text>
<text x="42.90" y="184.61" text-anchor="end" font-size="10.2" fill="#000">0.315</text>
<text x="42.90" y="195.69" text-anchor="end" font-size="10.2" fill="#000">0.27</text>
<text x="42.90" y="206.78" text-anchor="end" font-size="10.2" fill="#000">0.225</text>
<text x="42.90" y="217.86" text-anchor="end" font-size="10.2" fill="#000">0.18</text>
<text x="42.90" y="228.95" text-anchor="end" font-size="10.2" fill="#000">0.135</text>
<text x="42.90" y="240.03" text-anchor="end" font-size="10.2" fill="#000">0.09</text>
<text x="42.90" y="251.12" text-anchor="end" font-size="10.2" fill="#000">0.045</text>
<text x="42.90" y="262.20" text-anchor="end" font-size="10.2" fill="#000">0</text>
<text transform="translate(62.30,273.20) rotate(-90)" text-anchor="end" font-size="10.2" fill="#000">0</text>
<text transform="translate(73.45,273.20) rotate(-90)" text-anchor="end" font-size="10.2" fill="#000">45</text>
<text transform="translate(84.60,273.20) rotate(-90)" text-anchor="end" font-size="10.2" fill="#000">90</text>
<text transform="translate(95.76,273.20) rotate(-90)" text-anchor="end" font-size="10.2" fill="#000">135</text>
<text transform="translate(106.91,273.20) rotate(-90)" text-anchor="end" font-size="10.2" fill="#000">180</text>
<text transform="translate(118.06,273.20) rotate(-90)" text-anchor="end" font-size="10.2" fill="#000">225</text>
<text transform="translate(129.21,273.20) rotate(-90)" text-anchor="end" font-size="10.2" fill="#000">270</text>
<text transform="translate(140.36,273.20) rotate(-90)" text-anchor="end" font-size="10.2" fill="#000">315</text>
<text transform="translate(151.52,273.20) rotate(-90)" text-anchor="end" font-size="10.2" fill="#000">360</text>
<text transform="translate(162.67,273.20) rotate(-90)" text-anchor="end" font-size="10.2" fill="#000">405</text>
<text transform="translate(173.82,273.20) rotate(-90)" text-anchor="end" font-size="10.2" fill="#000">450</text>
<text transform="translate(184.97,273.20) rotate(-90)" text-anchor="end" font-size="10.2" fill="#000">495</text>
<text transform="translate(196.12,273.20) rotate(-90)" text-anchor="end" font-size="10.2" fill="#000">540</text>
<text transform="translate(207.28,273.20) rotate(-90)" text-anchor="end" font-size="10.2" fill="#000">585</text>
<text transform="translate(218.43,273.20) rotate(-90)" text-anchor="end" font-size="10.2" fill="#000">630</text>
<text transform="translate(229.58,273.20) rotate(-90)" text-anchor="end" font-size="10.2" fill="#000">675</text>
<text transform="translate(240.73,273.20) rotate(-90)" text-anchor="end" font-size="10.2" fill="#000">720</text>
<text transform="translate(251.88,273.20) rotate(-90)" text-anchor="end" font-size="10.2" fill="#000">765</text>
<text transform="translate(263.04,273.20) rotate(-90)" text-anchor="end" font-size="10.2" fill="#000">810</text>
<text transform="translate(274.19,273.20) rotate(-90)" text-anchor="end" font-size="10.2" fill="#000">855</text>
<text transform="translate(285.34,273.20) rotate(-90)" text-anchor="end" font-size="10.2" fill="#000">900</text>
<text x="28.20" y="10.80" font-size="9.6" font-weight="bold" fill="#000">Difference in number of alleles after 50 generations (default)</text>
<text transform="translate(10.10,147.60) scale(1.025,1) rotate(-90)" text-anchor="middle" font-size="11.75" fill="#000">Rate of change of escape probability</text>
<text x="168.90" y="307.00" text-anchor="middle" font-size="11.95" fill="#000">Number of prey removed per time step</text>
<rect x="302.60" y="249.97" width="11.40" height="15.23" fill="#00A600"/>
<rect x="302.60" y="235.24" width="11.40" height="15.23" fill="#19AF00"/>
<rect x="302.60" y="220.51" width="11.40" height="15.23" fill="#35B800"/>
<rect x="302.60" y="205.77" width="11.40" height="15.23" fill="#53C100"/>
<rect x="302.60" y="191.04" width="11.40" height="15.23" fill="#74CA00"/>
<rect x="302.60" y="176.31" width="11.40" height="15.23" fill="#97D300"/>
<rect x="302.60" y="161.58" width="11.40" height="15.23" fill="#BDDC00"/>
<rect x="302.60" y="146.85" width="11.40" height="15.23" fill="#E6E600"/>
<rect x="302.60" y="132.12" width="11.40" height="15.23" fill="#E7CE1D"/>
<rect x="302.60" y="117.39" width="11.40" height="15.23" fill="#E9BD3A"/>
<rect x="302.60" y="102.66" width="11.40" height="15.23" fill="#EAB358"/>
<rect x="302.60" y="87.93" width="11.40" height="15.23" fill="#ECB176"/>
<rect x="302.60" y="73.19" width="11.40" height="15.23" fill="#EDB694"/>
<rect x="302.60" y="58.46" width="11.40" height="15.23" fill="#EFC2B3"/>
<rect x="302.60" y="43.73" width="11.40" height="15.23" fill="#F1D6D3"/>
<rect x="302.60" y="29.50" width="11.40" height="14.73" fill="#F2F2F2"/>
<rect x="302.60" y="29.50" width="11.40" height="235.70" fill="none" stroke="#5a5a5a" stroke-width="1"/>
<text transform="translate(319.60,41.65) scale(0.92,1)" font-size="8.6" font-weight="bold" fill="#000">12</text>
<text transform="translate(319.60,69.39) scale(0.92,1)" font-size="8.6" font-weight="bold" fill="#000">10</text>
<text transform="translate(319.60,97.13) scale(0.92,1)" font-size="8.6" font-weight="bold" fill="#000">8</text>
<text transform="translate(319.60,124.87) scale(0.92,1)" font-size="8.6" font-weight="bold" fill="#000">6</text>
<text transform="translate(319.60,152.61) scale(0.92,1)" font-size="8.6" font-weight="bold" fill="#000">4</text>
<text transform="translate(319.60,180.35) scale(0.92,1)" font-size="8.6" font-weight="bold" fill="#000">2</text>
<text transform="translate(319.60,208.09) scale(0.92,1)" font-size="8.6" font-weight="bold" fill="#000">0</text>
<text transform="translate(319.60,235.83) scale(0.92,1)" font-size="8.6" font-weight="bold" fill="#000">-2</text>
<text transform="translate(319.60,263.57) scale(0.92,1)" font-size="8.6" font-weight="bold" fill="#000">-4</text>
<path d="M314.00 38.35H317.20M314.00 66.09H317.20M314.00 93.83H317.20M314.00 121.57H317.20M314.00 149.31H317.20M314.00 177.05H317.20M314.00 204.79H317.20M314.00 232.53H317.20M314.00 260.27H317.20" stroke="#5a5a5a" stroke-width="1" fill="none"/><rect x="405.30" y="27.50" width="11.77" height="11.85" fill="#53C100"/>
<rect x="416.57" y="27.50" width="11.77" height="11.85" fill="#BDDC00"/>
<rect x="427.83" y="27.50" width="11.77" height="11.85" fill="#74CA00"/>
<rect x="439.10" y="27.50" width="11.77" height="11.85" fill="#E7CE1D"/>
<rect x="450.37" y="27.50" width="11.77" height="11.85" fill="#E6E600"/>
<rect x="461.63" y="27.50" width="11.77" height="11.85" fill="#E9BD3A"/>
<rect x="472.90" y="27.50" width="11.77" height="11.85" fill="#E6E600"/>
<rect x="484.17" y="27.50" width="11.77" height="11.85" fill="#ECB176"/>
<rect x="495.43" y="27.50" width="11.77" height="11.85" fill="#E9BD3A"/>
<rect x="506.70" y="27.50" width="11.77" height="11.85" fill="#E7CE1D"/>
<rect x="517.97" y="27.50" width="11.77" height="11.85" fill="#E7CE1D"/>
<rect x="529.23" y="27.50" width="11.77" height="11.85" fill="#E6E600"/>
<rect x="540.50" y="27.50" width="11.77" height="11.85" fill="#BDDC00"/>
<rect x="551.77" y="27.50" width="11.77" height="11.85" fill="#E7CE1D"/>
<rect x="563.03" y="27.50" width="11.77" height="11.85" fill="#BDDC00"/>
<rect x="574.30" y="27.50" width="11.77" height="11.85" fill="#BDDC00"/>
<rect x="585.57" y="27.50" width="11.77" height="11.85" fill="#97D300"/>
<rect x="596.83" y="27.50" width="11.77" height="11.85" fill="#97D300"/>
<rect x="608.10" y="27.50" width="11.77" height="11.85" fill="#97D300"/>
<rect x="619.37" y="27.50" width="11.77" height="11.85" fill="#97D300"/>
<rect x="630.63" y="27.50" width="11.27" height="11.85" fill="#74CA00"/>
<rect x="405.30" y="38.85" width="11.77" height="11.75" fill="#74CA00"/>
<rect x="416.57" y="38.85" width="11.77" height="11.75" fill="#E7CE1D"/>
<rect x="427.83" y="38.85" width="11.77" height="11.75" fill="#97D300"/>
<rect x="439.10" y="38.85" width="11.77" height="11.75" fill="#E9BD3A"/>
<rect x="450.37" y="38.85" width="11.77" height="11.75" fill="#E9BD3A"/>
<rect x="461.63" y="38.85" width="11.77" height="11.75" fill="#E9BD3A"/>
<rect x="472.90" y="38.85" width="11.77" height="11.75" fill="#ECB176"/>
<rect x="484.17" y="38.85" width="11.77" height="11.75" fill="#BDDC00"/>
<rect x="495.43" y="38.85" width="11.77" height="11.75" fill="#E9BD3A"/>
<rect x="506.70" y="38.85" width="11.77" height="11.75" fill="#E7CE1D"/>
<rect x="517.97" y="38.85" width="11.77" height="11.75" fill="#E6E600"/>
<rect x="529.23" y="38.85" width="11.77" height="11.75" fill="#E6E600"/>
<rect x="540.50" y="38.85" width="11.77" height="11.75" fill="#BDDC00"/>
<rect x="551.77" y="38.85" width="11.77" height="11.75" fill="#E7CE1D"/>
<rect x="563.03" y="38.85" width="11.77" height="11.75" fill="#E6E600"/>
<rect x="574.30" y="38.85" width="11.77" height="11.75" fill="#BDDC00"/>
<rect x="585.57" y="38.85" width="11.77" height="11.75" fill="#97D300"/>
<rect x="596.83" y="38.85" width="11.77" height="11.75" fill="#BDDC00"/>
<rect x="608.10" y="38.85" width="11.77" height="11.75" fill="#97D300"/>
<rect x="619.37" y="38.85" width="11.77" height="11.75" fill="#97D300"/>
<rect x="630.63" y="38.85" width="11.27" height="11.75" fill="#97D300"/>
<rect x="405.30" y="50.10" width="11.77" height="11.75" fill="#E7CE1D"/>
<rect x="416.57" y="50.10" width="11.77" height="11.75" fill="#53C100"/>
<rect x="427.83" y="50.10" width="11.77" height="11.75" fill="#74CA00"/>
<rect x="439.10" y="50.10" width="11.77" height="11.75" fill="#E7CE1D"/>
<rect x="450.37" y="50.10" width="11.77" height="11.75" fill="#E6E600"/>
<rect x="461.63" y="50.10" width="11.77" height="11.75" fill="#E7CE1D"/>
<rect x="472.90" y="50.10" width="11.77" height="11.75" fill="#EAB358"/>
<rect x="484.17" y="50.10" width="11.77" height="11.75" fill="#ECB176"/>
<rect x="495.43" y="50.10" width="11.77" height="11.75" fill="#E9BD3A"/>
<rect x="506.70" y="50.10" width="11.77" height="11.75" fill="#E7CE1D"/>
<rect x="517.97" y="50.10" width="11.77" height="11.75" fill="#E7CE1D"/>
<rect x="529.23" y="50.10" width="11.77" height="11.75" fill="#E9BD3A"/>
<rect x="540.50" y="50.10" width="11.77" height="11.75" fill="#E7CE1D"/>
<rect x="551.77" y="50.10" width="11.77" height="11.75" fill="#E6E600"/>
<rect x="563.03" y="50.10" width="11.77" height="11.75" fill="#E6E600"/>
<rect x="574.30" y="50.10" width="11.77" height="11.75" fill="#E6E600"/>
<rect x="585.57" y="50.10" width="11.77" height="11.75" fill="#97D300"/>
<rect x="596.83" y="50.10" width="11.77" height="11.75" fill="#74CA00"/>
<rect x="608.10" y="50.10" width="11.77" height="11.75" fill="#97D300"/>
<rect x="619.37" y="50.10" width="11.77" height="11.75" fill="#74CA00"/>
<rect x="630.63" y="50.10" width="11.27" height="11.75" fill="#74CA00"/>
<rect x="405.30" y="61.34" width="11.77" height="11.75" fill="#74CA00"/>
<rect x="416.57" y="61.34" width="11.77" height="11.75" fill="#E7CE1D"/>
<rect x="427.83" y="61.34" width="11.77" height="11.75" fill="#35B800"/>
<rect x="439.10" y="61.34" width="11.77" height="11.75" fill="#E7CE1D"/>
<rect x="450.37" y="61.34" width="11.77" height="11.75" fill="#E9BD3A"/>
<rect x="461.63" y="61.34" width="11.77" height="11.75" fill="#E7CE1D"/>
<rect x="472.90" y="61.34" width="11.77" height="11.75" fill="#EAB358"/>
<rect x="484.17" y="61.34" width="11.77" height="11.75" fill="#EAB358"/>
<rect x="495.43" y="61.34" width="11.77" height="11.75" fill="#EAB358"/>
<rect x="506.70" y="61.34" width="11.77" height="11.75" fill="#EAB358"/>
<rect x="517.97" y="61.34" width="11.77" height="11.75" fill="#E7CE1D"/>
<rect x="529.23" y="61.34" width="11.77" height="11.75" fill="#E6E600"/>
<rect x="540.50" y="61.34" width="11.77" height="11.75" fill="#E6E600"/>
<rect x="551.77" y="61.34" width="11.77" height="11.75" fill="#BDDC00"/>
<rect x="563.03" y="61.34" width="11.77" height="11.75" fill="#BDDC00"/>
<rect x="574.30" y="61.34" width="11.77" height="11.75" fill="#97D300"/>
<rect x="585.57" y="61.34" width="11.77" height="11.75" fill="#97D300"/>
<rect x="596.83" y="61.34" width="11.77" height="11.75" fill="#97D300"/>
<rect x="608.10" y="61.34" width="11.77" height="11.75" fill="#97D300"/>
<rect x="619.37" y="61.34" width="11.77" height="11.75" fill="#97D300"/>
<rect x="630.63" y="61.34" width="11.27" height="11.75" fill="#74CA00"/>
<rect x="405.30" y="72.59" width="11.77" height="11.75" fill="#97D300"/>
<rect x="416.57" y="72.59" width="11.77" height="11.75" fill="#35B800"/>
<rect x="427.83" y="72.59" width="11.77" height="11.75" fill="#97D300"/>
<rect x="439.10" y="72.59" width="11.77" height="11.75" fill="#E6E600"/>
<rect x="450.37" y="72.59" width="11.77" height="11.75" fill="#E9BD3A"/>
<rect x="461.63" y="72.59" width="11.77" height="11.75" fill="#E6E600"/>
<rect x="472.90" y="72.59" width="11.77" height="11.75" fill="#E7CE1D"/>
<rect x="484.17" y="72.59" width="11.77" height="11.75" fill="#E7CE1D"/>
<rect x="495.43" y="72.59" width="11.77" height="11.75" fill="#EAB358"/>
<rect x="506.70" y="72.59" width="11.77" height="11.75" fill="#ECB176"/>
<rect x="517.97" y="72.59" width="11.77" height="11.75" fill="#E9BD3A"/>
<rect x="529.23" y="72.59" width="11.77" height="11.75" fill="#E6E600"/>
<rect x="540.50" y="72.59" width="11.77" height="11.75" fill="#BDDC00"/>
<rect x="551.77" y="72.59" width="11.77" height="11.75" fill="#E6E600"/>
<rect x="563.03" y="72.59" width="11.77" height="11.75" fill="#BDDC00"/>
<rect x="574.30" y="72.59" width="11.77" height="11.75" fill="#97D300"/>
<rect x="585.57" y="72.59" width="11.77" height="11.75" fill="#74CA00"/>
<rect x="596.83" y="72.59" width="11.77" height="11.75" fill="#97D300"/>
<rect x="608.10" y="72.59" width="11.77" height="11.75" fill="#97D300"/>
<rect x="619.37" y="72.59" width="11.77" height="11.75" fill="#74CA00"/>
<rect x="630.63" y="72.59" width="11.27" height="11.75" fill="#74CA00"/>
<rect x="405.30" y="83.84" width="11.77" height="11.75" fill="#35B800"/>
<rect x="416.57" y="83.84" width="11.77" height="11.75" fill="#BDDC00"/>
<rect x="427.83" y="83.84" width="11.77" height="11.75" fill="#97D300"/>
<rect x="439.10" y="83.84" width="11.77" height="11.75" fill="#E6E600"/>
<rect x="450.37" y="83.84" width="11.77" height="11.75" fill="#E9BD3A"/>
<rect x="461.63" y="83.84" width="11.77" height="11.75" fill="#EAB358"/>
<rect x="472.90" y="83.84" width="11.77" height="11.75" fill="#EAB358"/>
<rect x="484.17" y="83.84" width="11.77" height="11.75" fill="#ECB176"/>
<rect x="495.43" y="83.84" width="11.77" height="11.75" fill="#ECB176"/>
<rect x="506.70" y="83.84" width="11.77" height="11.75" fill="#E9BD3A"/>
<rect x="517.97" y="83.84" width="11.77" height="11.75" fill="#EAB358"/>
<rect x="529.23" y="83.84" width="11.77" height="11.75" fill="#E6E600"/>
<rect x="540.50" y="83.84" width="11.77" height="11.75" fill="#BDDC00"/>
<rect x="551.77" y="83.84" width="11.77" height="11.75" fill="#97D300"/>
<rect x="563.03" y="83.84" width="11.77" height="11.75" fill="#E6E600"/>
<rect x="574.30" y="83.84" width="11.77" height="11.75" fill="#97D300"/>
<rect x="585.57" y="83.84" width="11.77" height="11.75" fill="#E6E600"/>
<rect x="596.83" y="83.84" width="11.77" height="11.75" fill="#97D300"/>
<rect x="608.10" y="83.84" width="11.77" height="11.75" fill="#97D300"/>
<rect x="619.37" y="83.84" width="11.77" height="11.75" fill="#74CA00"/>
<rect x="630.63" y="83.84" width="11.27" height="11.75" fill="#74CA00"/>
<rect x="405.30" y="95.09" width="11.77" height="11.75" fill="#BDDC00"/>
<rect x="416.57" y="95.09" width="11.77" height="11.75" fill="#74CA00"/>
<rect x="427.83" y="95.09" width="11.77" height="11.75" fill="#BDDC00"/>
<rect x="439.10" y="95.09" width="11.77" height="11.75" fill="#E9BD3A"/>
<rect x="450.37" y="95.09" width="11.77" height="11.75" fill="#EAB358"/>
<rect x="461.63" y="95.09" width="11.77" height="11.75" fill="#E7CE1D"/>
<rect x="472.90" y="95.09" width="11.77" height="11.75" fill="#EFC2B3"/>
<rect x="484.17" y="95.09" width="11.77" height="11.75" fill="#E9BD3A"/>
<rect x="495.43" y="95.09" width="11.77" height="11.75" fill="#E7CE1D"/>
<rect x="506.70" y="95.09" width="11.77" height="11.75" fill="#E6E600"/>
<rect x="517.97" y="95.09" width="11.77" height="11.75" fill="#EAB358"/>
<rect x="529.23" y="95.09" width="11.77" height="11.75" fill="#EAB358"/>
<rect x="540.50" y="95.09" width="11.77" height="11.75" fill="#BDDC00"/>
<rect x="551.77" y="95.09" width="11.77" height="11.75" fill="#E6E600"/>
<rect x="563.03" y="95.09" width="11.77" height="11.75" fill="#BDDC00"/>
<rect x="574.30" y="95.09" width="11.77" height="11.75" fill="#BDDC00"/>
<rect x="585.57" y="95.09" width="11.77" height="11.75" fill="#97D300"/>
<rect x="596.83" y="95.09" width="11.77" height="11.75" fill="#97D300"/>
<rect x="608.10" y="95.09" width="11.77" height="11.75" fill="#97D300"/>
<rect x="619.37" y="95.09" width="11.77" height="11.75" fill="#74CA00"/>
<rect x="630.63" y="95.09" width="11.27" height="11.75" fill="#74CA00"/>
<rect x="405.30" y="106.33" width="11.77" height="11.75" fill="#97D300"/>
<rect x="416.57" y="106.33" width="11.77" height="11.75" fill="#97D300"/>
<rect x="427.83" y="106.33" width="11.77" height="11.75" fill="#74CA00"/>
<rect x="439.10" y="106.33" width="11.77" height="11.75" fill="#E6E600"/>
<rect x="450.37" y="106.33" width="11.77" height="11.75" fill="#E9BD3A"/>
<rect x="461.63" y="106.33" width="11.77" height="11.75" fill="#EDB694"/>
<rect x="472.90" y="106.33" width="11.77" height="11.75" fill="#EAB358"/>
<rect x="484.17" y="106.33" width="11.77" height="11.75" fill="#E7CE1D"/>
<rect x="495.43" y="106.33" width="11.77" height="11.75" fill="#EAB358"/>
<rect x="506.70" y="106.33" width="11.77" height="11.75" fill="#E7CE1D"/>
<rect x="517.97" y="106.33" width="11.77" height="11.75" fill="#E9BD3A"/>
<rect x="529.23" y="106.33" width="11.77" height="11.75" fill="#E9BD3A"/>
<rect x="540.50" y="106.33" width="11.77" height="11.75" fill="#EAB358"/>
<rect x="551.77" y="106.33" width="11.77" height="11.75" fill="#E6E600"/>
<rect x="563.03" y="106.33" width="11.77" height="11.75" fill="#BDDC00"/>
<rect x="574.30" y="106.33" width="11.77" height="11.75" fill="#74CA00"/>
<rect x="585.57" y="106.33" width="11.77" height="11.75" fill="#BDDC00"/>
<rect x="596.83" y="106.33" width="11.77" height="11.75" fill="#74CA00"/>
<rect x="608.10" y="106.33" width="11.77" height="11.75" fill="#97D300"/>
<rect x="619.37" y="106.33" width="11.77" height="11.75" fill="#74CA00"/>
<rect x="630.63" y="106.33" width="11.27" height="11.75" fill="#97D300"/>
<rect x="405.30" y="117.58" width="11.77" height="11.75" fill="#53C100"/>
<rect x="416.57" y="117.58" width="11.77" height="11.75" fill="#97D300"/>
<rect x="427.83" y="117.58" width="11.77" height="11.75" fill="#53C100"/>
<rect x="439.10" y="117.58" width="11.77" height="11.75" fill="#E7CE1D"/>
<rect x="450.37" y="117.58" width="11.77" height="11.75" fill="#E9BD3A"/>
<rect x="461.63" y="117.58" width="11.77" height="11.75" fill="#E9BD3A"/>
<rect x="472.90" y="117.58" width="11.77" height="11.75" fill="#ECB176"/>
<rect x="484.17" y="117.58" width="11.77" height="11.75" fill="#E9BD3A"/>
<rect x="495.43" y="117.58" width="11.77" height="11.75" fill="#EAB358"/>
<rect x="506.70" y="117.58" width="11.77" height="11.75" fill="#EAB358"/>
<rect x="517.97" y="117.58" width="11.77" height="11.75" fill="#EAB358"/>
<rect x="529.23" y="117.58" width="11.77" height="11.75" fill="#E9BD3A"/>
<rect x="540.50" y="117.58" width="11.77" height="11.75" fill="#BDDC00"/>
<rect x="551.77" y="117.58" width="11.77" height="11.75" fill="#E6E600"/>
<rect x="563.03" y="117.58" width="11.77" height="11.75" fill="#BDDC00"/>
<rect x="574.30" y="117.58" width="11.77" height="11.75" fill="#BDDC00"/>
<rect x="585.57" y="117.58" width="11.77" height="11.75" fill="#97D300"/>
<rect x="596.83" y="117.58" width="11.77" height="11.75" fill="#97D300"/>
<rect x="608.10" y="117.58" width="11.77" height="11.75" fill="#74CA00"/>
<rect x="619.37" y="117.58" width="11.77" height="11.75" fill="#97D300"/>
<rect x="630.63" y="117.58" width="11.27" height="11.75" fill="#97D300"/>
<rect x="405.30" y="128.83" width="11.77" height="11.75" fill="#74CA00"/>
<rect x="416.57" y="128.83" width="11.77" height="11.75" fill="#97D300"/>
<rect x="427.83" y="128.83" width="11.77" height="11.75" fill="#97D300"/>
<rect x="439.10" y="128.83" width="11.77" height="11.75" fill="#E7CE1D"/>
<rect x="450.37" y="128.83" width="11.77" height="11.75" fill="#EAB358"/>
<rect x="461.63" y="128.83" width="11.77" height="11.75" fill="#E9BD3A"/>
<rect x="472.90" y="128.83" width="11.77" height="11.75" fill="#EDB694"/>
<rect x="484.17" y="128.83" width="11.77" height="11.75" fill="#E7CE1D"/>
<rect x="495.43" y="128.83" width="11.77" height="11.75" fill="#E9BD3A"/>
<rect x="506.70" y="128.83" width="11.77" height="11.75" fill="#EAB358"/>
<rect x="517.97" y="128.83" width="11.77" height="11.75" fill="#E9BD3A"/>
<rect x="529.23" y="128.83" width="11.77" height="11.75" fill="#EAB358"/>
<rect x="540.50" y="128.83" width="11.77" height="11.75" fill="#E9BD3A"/>
<rect x="551.77" y="128.83" width="11.77" height="11.75" fill="#E6E600"/>
<rect x="563.03" y="128.83" width="11.77" height="11.75" fill="#E6E600"/>
<rect x="574.30" y="128.83" width="11.77" height="11.75" fill="#E6E600"/>
<rect x="585.57" y="128.83" width="11.77" height="11.75" fill="#BDDC00"/>
<rect x="596.83" y="128.83" width="11.77" height="11.75" fill="#97D300"/>
<rect x="608.10" y="128.83" width="11.77" height="11.75" fill="#97D300"/>
<rect x="619.37" y="128.83" width="11.77" height="11.75" fill="#97D300"/>
<rect x="630.63" y="128.83" width="11.27" height="11.75" fill="#97D300"/>
<rect x="405.30" y="140.08" width="11.77" height="11.75" fill="#97D300"/>
<rect x="416.57" y="140.08" width="11.77" height="11.75" fill="#74CA00"/>
<rect x="427.83" y="140.08" width="11.77" height="11.75" fill="#74CA00"/>
<rect x="439.10" y="140.08" width="11.77" height="11.75" fill="#E7CE1D"/>
<rect x="450.37" y="140.08" width="11.77" height="11.75" fill="#EAB358"/>
<rect x="461.63" y="140.08" width="11.77" height="11.75" fill="#EAB358"/>
<rect x="472.90" y="140.08" width="11.77" height="11.75" fill="#E9BD3A"/>
<rect x="484.17" y="140.08" width="11.77" height="11.75" fill="#EDB694"/>
<rect x="495.43" y="140.08" width="11.77" height="11.75" fill="#EDB694"/>
<rect x="506.70" y="140.08" width="11.77" height="11.75" fill="#EAB358"/>
<rect x="517.97" y="140.08" width="11.77" height="11.75" fill="#EAB358"/>
<rect x="529.23" y="140.08" width="11.77" height="11.75" fill="#EAB358"/>
<rect x="540.50" y="140.08" width="11.77" height="11.75" fill="#E9BD3A"/>
<rect x="551.77" y="140.08" width="11.77" height="11.75" fill="#E7CE1D"/>
<rect x="563.03" y="140.08" width="11.77" height="11.75" fill="#E6E600"/>
<rect x="574.30" y="140.08" width="11.77" height="11.75" fill="#BDDC00"/>
<rect x="585.57" y="140.08" width="11.77" height="11.75" fill="#BDDC00"/>
<rect x="596.83" y="140.08" width="11.77" height="11.75" fill="#BDDC00"/>
<rect x="608.10" y="140.08" width="11.77" height="11.75" fill="#97D300"/>
<rect x="619.37" y="140.08" width="11.77" height="11.75" fill="#74CA00"/>
<rect x="630.63" y="140.08" width="11.27" height="11.75" fill="#74CA00"/>
<rect x="405.30" y="151.32" width="11.77" height="11.75" fill="#74CA00"/>
<rect x="416.57" y="151.32" width="11.77" height="11.75" fill="#74CA00"/>
<rect x="427.83" y="151.32" width="11.77" height="11.75" fill="#74CA00"/>
<rect x="439.10" y="151.32" width="11.77" height="11.75" fill="#BDDC00"/>
<rect x="450.37" y="151.32" width="11.77" height="11.75" fill="#E6E600"/>
<rect x="461.63" y="151.32" width="11.77" height="11.75" fill="#E9BD3A"/>
<rect x="472.90" y="151.32" width="11.77" height="11.75" fill="#E9BD3A"/>
<rect x="484.17" y="151.32" width="11.77" height="11.75" fill="#EAB358"/>
<rect x="495.43" y="151.32" width="11.77" height="11.75" fill="#ECB176"/>
<rect x="506.70" y="151.32" width="11.77" height="11.75" fill="#EDB694"/>
<rect x="517.97" y="151.32" width="11.77" height="11.75" fill="#E9BD3A"/>
<rect x="529.23" y="151.32" width="11.77" height="11.75" fill="#E7CE1D"/>
<rect x="540.50" y="151.32" width="11.77" height="11.75" fill="#ECB176"/>
<rect x="551.77" y="151.32" width="11.77" height="11.75" fill="#E6E600"/>
<rect x="563.03" y="151.32" width="11.77" height="11.75" fill="#E7CE1D"/>
<rect x="574.30" y="151.32" width="11.77" height="11.75" fill="#E6E600"/>
<rect x="585.57" y="151.32" width="11.77" height="11.75" fill="#97D300"/>
<rect x="596.83" y="151.32" width="11.77" height="11.75" fill="#74CA00"/>
<rect x="608.10" y="151.32" width="11.77" height="11.75" fill="#97D300"/>
<rect x="619.37" y="151.32" width="11.77" height="11.75" fill="#97D300"/>
<rect x="630.63" y="151.32" width="11.27" height="11.75" fill="#74CA00"/>
<rect x="405.30" y="162.57" width="11.77" height="11.75" fill="#74CA00"/>
<rect x="416.57" y="162.57" width="11.77" height="11.75" fill="#53C100"/>
<rect x="427.83" y="162.57" width="11.77" height="11.75" fill="#74CA00"/>
<rect x="439.10" y="162.57" width="11.77" height="11.75" fill="#97D300"/>
<rect x="450.37" y="162.57" width="11.77" height="11.75" fill="#EAB358"/>
<rect x="461.63" y="162.57" width="11.77" height="11.75" fill="#EAB358"/>
<rect x="472.90" y="162.57" width="11.77" height="11.75" fill="#EFC2B3"/>
<rect x="484.17" y="162.57" width="11.77" height="11.75" fill="#EAB358"/>
<rect x="495.43" y="162.57" width="11.77" height="11.75" fill="#EAB358"/>
<rect x="506.70" y="162.57" width="11.77" height="11.75" fill="#EDB694"/>
<rect x="517.97" y="162.57" width="11.77" height="11.75" fill="#EAB358"/>
<rect x="529.23" y="162.57" width="11.77" height="11.75" fill="#EAB358"/>
<rect x="540.50" y="162.57" width="11.77" height="11.75" fill="#E9BD3A"/>
<rect x="551.77" y="162.57" width="11.77" height="11.75" fill="#E7CE1D"/>
<rect x="563.03" y="162.57" width="11.77" height="11.75" fill="#E9BD3A"/>
<rect x="574.30" y="162.57" width="11.77" height="11.75" fill="#E6E600"/>
<rect x="585.57" y="162.57" width="11.77" height="11.75" fill="#BDDC00"/>
<rect x="596.83" y="162.57" width="11.77" height="11.75" fill="#BDDC00"/>
<rect x="608.10" y="162.57" width="11.77" height="11.75" fill="#97D300"/>
<rect x="619.37" y="162.57" width="11.77" height="11.75" fill="#97D300"/>
<rect x="630.63" y="162.57" width="11.27" height="11.75" fill="#97D300"/>
<rect x="405.30" y="173.82" width="11.77" height="11.75" fill="#53C100"/>
<rect x="416.57" y="173.82" width="11.77" height="11.75" fill="#97D300"/>
<rect x="427.83" y="173.82" width="11.77" height="11.75" fill="#74CA00"/>
<rect x="439.10" y="173.82" width="11.77" height="11.75" fill="#74CA00"/>
<rect x="450.37" y="173.82" width="11.77" height="11.75" fill="#E7CE1D"/>
<rect x="461.63" y="173.82" width="11.77" height="11.75" fill="#EAB358"/>
<rect x="472.90" y="173.82" width="11.77" height="11.75" fill="#EAB358"/>
<rect x="484.17" y="173.82" width="11.77" height="11.75" fill="#EAB358"/>
<rect x="495.43" y="173.82" width="11.77" height="11.75" fill="#F1D6D3"/>
<rect x="506.70" y="173.82" width="11.77" height="11.75" fill="#EDB694"/>
<rect x="517.97" y="173.82" width="11.77" height="11.75" fill="#EDB694"/>
<rect x="529.23" y="173.82" width="11.77" height="11.75" fill="#EAB358"/>
<rect x="540.50" y="173.82" width="11.77" height="11.75" fill="#EAB358"/>
<rect x="551.77" y="173.82" width="11.77" height="11.75" fill="#E9BD3A"/>
<rect x="563.03" y="173.82" width="11.77" height="11.75" fill="#E6E600"/>
<rect x="574.30" y="173.82" width="11.77" height="11.75" fill="#E7CE1D"/>
<rect x="585.57" y="173.82" width="11.77" height="11.75" fill="#BDDC00"/>
<rect x="596.83" y="173.82" width="11.77" height="11.75" fill="#97D300"/>
<rect x="608.10" y="173.82" width="11.77" height="11.75" fill="#97D300"/>
<rect x="619.37" y="173.82" width="11.77" height="11.75" fill="#97D300"/>
<rect x="630.63" y="173.82" width="11.27" height="11.75" fill="#74CA00"/>
<rect x="405.30" y="185.07" width="11.77" height="11.75" fill="#19AF00"/>
<rect x="416.57" y="185.07" width="11.77" height="11.75" fill="#97D300"/>
<rect x="427.83" y="185.07" width="11.77" height="11.75" fill="#97D300"/>
<rect x="439.10" y="185.07" width="11.77" height="11.75" fill="#35B800"/>
<rect x="450.37" y="185.07" width="11.77" height="11.75" fill="#E7CE1D"/>
<rect x="461.63" y="185.07" width="11.77" height="11.75" fill="#E7CE1D"/>
<rect x="472.90" y="185.07" width="11.77" height="11.75" fill="#EAB358"/>
<rect x="484.17" y="185.07" width="11.77" height="11.75" fill="#EDB694"/>
<rect x="495.43" y="185.07" width="11.77" height="11.75" fill="#ECB176"/>
<rect x="506.70" y="185.07" width="11.77" height="11.75" fill="#EFC2B3"/>
<rect x="517.97" y="185.07" width="11.77" height="11.75" fill="#EDB694"/>
<rect x="529.23" y="185.07" width="11.77" height="11.75" fill="#EAB358"/>
<rect x="540.50" y="185.07" width="11.77" height="11.75" fill="#EAB358"/>
<rect x="551.77" y="185.07" width="11.77" height="11.75" fill="#EAB358"/>
<rect x="563.03" y="185.07" width="11.77" height="11.75" fill="#E7CE1D"/>
<rect x="574.30" y="185.07" width="11.77" height="11.75" fill="#E6E600"/>
<rect x="585.57" y="185.07" width="11.77" height="11.75" fill="#BDDC00"/>
<rect x="596.83" y="185.07" width="11.77" height="11.75" fill="#BDDC00"/>
<rect x="608.10" y="185.07" width="11.77" height="11.75" fill="#97D300"/>
<rect x="619.37" y="185.07" width="11.77" height="11.75" fill="#97D300"/>
<rect x="630.63" y="185.07" width="11.27" height="11.75" fill="#97D300"/>
<rect x="405.30" y="196.31" width="11.77" height="11.75" fill="#74CA00"/>
<rect x="416.57" y="196.31" width="11.77" height="11.75" fill="#74CA00"/>
<rect x="427.83" y="196.31" width="11.77" height="11.75" fill="#74CA00"/>
<rect x="439.10" y="196.31" width="11.77" height="11.75" fill="#74CA00"/>
<rect x="450.37" y="196.31" width="11.77" height="11.75" fill="#E6E600"/>
<rect x="461.63" y="196.31" width="11.77" height="11.75" fill="#E9BD3A"/>
<rect x="472.90" y="196.31" width="11.77" height="11.75" fill="#EAB358"/>
<rect x="484.17" y="196.31" width="11.77" height="11.75" fill="#EDB694"/>
<rect x="495.43" y="196.31" width="11.77" height="11.75" fill="#E9BD3A"/>
<rect x="506.70" y="196.31" width="11.77" height="11.75" fill="#EDB694"/>
<rect x="517.97" y="196.31" width="11.77" height="11.75" fill="#EDB694"/>
<rect x="529.23" y="196.31" width="11.77" height="11.75" fill="#EFC2B3"/>
<rect x="540.50" y="196.31" width="11.77" height="11.75" fill="#EAB358"/>
<rect x="551.77" y="196.31" width="11.77" height="11.75" fill="#EDB694"/>
<rect x="563.03" y="196.31" width="11.77" height="11.75" fill="#E9BD3A"/>
<rect x="574.30" y="196.31" width="11.77" height="11.75" fill="#E6E600"/>
<rect x="585.57" y="196.31" width="11.77" height="11.75" fill="#BDDC00"/>
<rect x="596.83" y="196.31" width="11.77" height="11.75" fill="#BDDC00"/>
<rect x="608.10" y="196.31" width="11.77" height="11.75" fill="#97D300"/>
<rect x="619.37" y="196.31" width="11.77" height="11.75" fill="#97D300"/>
<rect x="630.63" y="196.31" width="11.27" height="11.75" fill="#97D300"/>
<rect x="405.30" y="207.56" width="11.77" height="11.75" fill="#97D300"/>
<rect x="416.57" y="207.56" width="11.77" height="11.75" fill="#53C100"/>
<rect x="427.83" y="207.56" width="11.77" height="11.75" fill="#53C100"/>
<rect x="439.10" y="207.56" width="11.77" height="11.75" fill="#97D300"/>
<rect x="450.37" y="207.56" width="11.77" height="11.75" fill="#53C100"/>
<rect x="461.63" y="207.56" width="11.77" height="11.75" fill="#74CA00"/>
<rect x="472.90" y="207.56" width="11.77" height="11.75" fill="#EAB358"/>
<rect x="484.17" y="207.56" width="11.77" height="11.75" fill="#EDB694"/>
<rect x="495.43" y="207.56" width="11.77" height="11.75" fill="#EDB694"/>
<rect x="506.70" y="207.56" width="11.77" height="11.75" fill="#EFC2B3"/>
<rect x="517.97" y="207.56" width="11.77" height="11.75" fill="#F2F2F2"/>
<rect x="529.23" y="207.56" width="11.77" height="11.75" fill="#EDB694"/>
<rect x="540.50" y="207.56" width="11.77" height="11.75" fill="#EDB694"/>
<rect x="551.77" y="207.56" width="11.77" height="11.75" fill="#EDB694"/>
<rect x="563.03" y="207.56" width="11.77" height="11.75" fill="#EAB358"/>
<rect x="574.30" y="207.56" width="11.77" height="11.75" fill="#EAB358"/>
<rect x="585.57" y="207.56" width="11.77" height="11.75" fill="#E9BD3A"/>
<rect x="596.83" y="207.56" width="11.77" height="11.75" fill="#E6E600"/>
<rect x="608.10" y="207.56" width="11.77" height="11.75" fill="#97D300"/>
<rect x="619.37" y="207.56" width="11.77" height="11.75" fill="#97D300"/>
<rect x="630.63" y="207.56" width="11.27" height="11.75" fill="#74CA00"/>
<rect x="405.30" y="218.81" width="11.77" height="11.75" fill="#74CA00"/>
<rect x="416.57" y="218.81" width="11.77" height="11.75" fill="#97D300"/>
<rect x="427.83" y="218.81" width="11.77" height="11.75" fill="#97D300"/>
<rect x="439.10" y="218.81" width="11.77" height="11.75" fill="#97D300"/>
<rect x="450.37" y="218.81" width="11.77" height="11.75" fill="#E6E600"/>
<rect x="461.63" y="218.81" width="11.77" height="11.75" fill="#97D300"/>
<rect x="472.90" y="218.81" width="11.77" height="11.75" fill="#BDDC00"/>
<rect x="484.17" y="218.81" width="11.77" height="11.75" fill="#E9BD3A"/>
<rect x="495.43" y="218.81" width="11.77" height="11.75" fill="#E7CE1D"/>
<rect x="506.70" y="218.81" width="11.77" height="11.75" fill="#ECB176"/>
<rect x="517.97" y="218.81" width="11.77" height="11.75" fill="#EDB694"/>
<rect x="529.23" y="218.81" width="11.77" height="11.75" fill="#F1D6D3"/>
<rect x="540.50" y="218.81" width="11.77" height="11.75" fill="#EFC2B3"/>
<rect x="551.77" y="218.81" width="11.77" height="11.75" fill="#EDB694"/>
<rect x="563.03" y="218.81" width="11.77" height="11.75" fill="#F1D6D3"/>
<rect x="574.30" y="218.81" width="11.77" height="11.75" fill="#EAB358"/>
<rect x="585.57" y="218.81" width="11.77" height="11.75" fill="#E9BD3A"/>
<rect x="596.83" y="218.81" width="11.77" height="11.75" fill="#E9BD3A"/>
<rect x="608.10" y="218.81" width="11.77" height="11.75" fill="#E6E600"/>
<rect x="619.37" y="218.81" width="11.77" height="11.75" fill="#97D300"/>
<rect x="630.63" y="218.81" width="11.27" height="11.75" fill="#97D300"/>
<rect x="405.30" y="230.06" width="11.77" height="11.75" fill="#74CA00"/>
<rect x="416.57" y="230.06" width="11.77" height="11.75" fill="#97D300"/>
<rect x="427.83" y="230.06" width="11.77" height="11.75" fill="#74CA00"/>
<rect x="439.10" y="230.06" width="11.77" height="11.75" fill="#74CA00"/>
<rect x="450.37" y="230.06" width="11.77" height="11.75" fill="#74CA00"/>
<rect x="461.63" y="230.06" width="11.77" height="11.75" fill="#74CA00"/>
<rect x="472.90" y="230.06" width="11.77" height="11.75" fill="#35B800"/>
<rect x="484.17" y="230.06" width="11.77" height="11.75" fill="#BDDC00"/>
<rect x="495.43" y="230.06" width="11.77" height="11.75" fill="#E6E600"/>
<rect x="506.70" y="230.06" width="11.77" height="11.75" fill="#BDDC00"/>
<rect x="517.97" y="230.06" width="11.77" height="11.75" fill="#E7CE1D"/>
<rect x="529.23" y="230.06" width="11.77" height="11.75" fill="#E7CE1D"/>
<rect x="540.50" y="230.06" width="11.77" height="11.75" fill="#E9BD3A"/>
<rect x="551.77" y="230.06" width="11.77" height="11.75" fill="#E9BD3A"/>
<rect x="563.03" y="230.06" width="11.77" height="11.75" fill="#EAB358"/>
<rect x="574.30" y="230.06" width="11.77" height="11.75" fill="#ECB176"/>
<rect x="585.57" y="230.06" width="11.77" height="11.75" fill="#EAB358"/>
<rect x="596.83" y="230.06" width="11.77" height="11.75" fill="#EAB358"/>
<rect x="608.10" y="230.06" width="11.77" height="11.75" fill="#EAB358"/>
<rect x="619.37" y="230.06" width="11.77" height="11.75" fill="#E6E600"/>
<rect x="630.63" y="230.06" width="11.27" height="11.75" fill="#BDDC00"/>
<rect x="405.30" y="241.30" width="11.77" height="11.75" fill="#BDDC00"/>
<rect x="416.57" y="241.30" width="11.77" height="11.75" fill="#53C100"/>
<rect x="427.83" y="241.30" width="11.77" height="11.75" fill="#74CA00"/>
<rect x="439.10" y="241.30" width="11.77" height="11.75" fill="#74CA00"/>
<rect x="450.37" y="241.30" width="11.77" height="11.75" fill="#53C100"/>
<rect x="461.63" y="241.30" width="11.77" height="11.75" fill="#53C100"/>
<rect x="472.90" y="241.30" width="11.77" height="11.75" fill="#E6E600"/>
<rect x="484.17" y="241.30" width="11.77" height="11.75" fill="#74CA00"/>
<rect x="495.43" y="241.30" width="11.77" height="11.75" fill="#53C100"/>
<rect x="506.70" y="241.30" width="11.77" height="11.75" fill="#BDDC00"/>
<rect x="517.97" y="241.30" width="11.77" height="11.75" fill="#97D300"/>
<rect x="529.23" y="241.30" width="11.77" height="11.75" fill="#74CA00"/>
<rect x="540.50" y="241.30" width="11.77" height="11.75" fill="#97D300"/>
<rect x="551.77" y="241.30" width="11.77" height="11.75" fill="#BDDC00"/>
<rect x="563.03" y="241.30" width="11.77" height="11.75" fill="#97D300"/>
<rect x="574.30" y="241.30" width="11.77" height="11.75" fill="#97D300"/>
<rect x="585.57" y="241.30" width="11.77" height="11.75" fill="#74CA00"/>
<rect x="596.83" y="241.30" width="11.77" height="11.75" fill="#97D300"/>
<rect x="608.10" y="241.30" width="11.77" height="11.75" fill="#97D300"/>
<rect x="619.37" y="241.30" width="11.77" height="11.75" fill="#97D300"/>
<rect x="630.63" y="241.30" width="11.27" height="11.75" fill="#97D300"/>
<rect x="405.30" y="252.55" width="11.77" height="11.25" fill="#BDDC00"/>
<rect x="416.57" y="252.55" width="11.77" height="11.25" fill="#00A600"/>
<rect x="427.83" y="252.55" width="11.77" height="11.25" fill="#74CA00"/>
<rect x="439.10" y="252.55" width="11.77" height="11.25" fill="#53C100"/>
<rect x="450.37" y="252.55" width="11.77" height="11.25" fill="#74CA00"/>
<rect x="461.63" y="252.55" width="11.77" height="11.25" fill="#BDDC00"/>
<rect x="472.90" y="252.55" width="11.77" height="11.25" fill="#97D300"/>
<rect x="484.17" y="252.55" width="11.77" height="11.25" fill="#E6E600"/>
<rect x="495.43" y="252.55" width="11.77" height="11.25" fill="#97D300"/>
<rect x="506.70" y="252.55" width="11.77" height="11.25" fill="#97D300"/>
<rect x="517.97" y="252.55" width="11.77" height="11.25" fill="#74CA00"/>
<rect x="529.23" y="252.55" width="11.77" height="11.25" fill="#74CA00"/>
<rect x="540.50" y="252.55" width="11.77" height="11.25" fill="#97D300"/>
<rect x="551.77" y="252.55" width="11.77" height="11.25" fill="#BDDC00"/>
<rect x="563.03" y="252.55" width="11.77" height="11.25" fill="#74CA00"/>
<rect x="574.30" y="252.55" width="11.77" height="11.25" fill="#74CA00"/>
<rect x="585.57" y="252.55" width="11.77" height="11.25" fill="#74CA00"/>
<rect x="596.83" y="252.55" width="11.77" height="11.25" fill="#97D300"/>
<rect x="608.10" y="252.55" width="11.77" height="11.25" fill="#53C100"/>
<rect x="619.37" y="252.55" width="11.77" height="11.25" fill="#74CA00"/>
<rect x="630.63" y="252.55" width="11.27" height="11.25" fill="#97D300"/>
<rect x="404.70" y="27.00" width="238.80" height="237.90" fill="none" stroke="#5a5a5a" stroke-width="1"/>
<path d="M411.60 27.00V23.40M411.60 264.90V268.50M404.70 33.80H400.70M643.50 33.80H647.10M422.85 27.00V23.40M422.85 264.90V268.50M404.70 45.02H400.70M643.50 45.02H647.10M434.09 27.00V23.40M434.09 264.90V268.50M404.70 56.24H400.70M643.50 56.24H647.10M445.34 27.00V23.40M445.34 264.90V268.50M404.70 67.46H400.70M643.50 67.46H647.10M456.58 27.00V23.40M456.58 264.90V268.50M404.70 78.68H400.70M643.50 78.68H647.10M467.83 27.00V23.40M467.83 264.90V268.50M404.70 89.90H400.70M643.50 89.90H647.10M479.07 27.00V23.40M479.07 264.90V268.50M404.70 101.12H400.70M643.50 101.12H647.10M490.31 27.00V23.40M490.31 264.90V268.50M404.70 112.34H400.70M643.50 112.34H647.10M501.56 27.00V23.40M501.56 264.90V268.50M404.70 123.56H400.70M643.50 123.56H647.10M512.81 27.00V23.40M512.81 264.90V268.50M404.70 134.78H400.70M643.50 134.78H647.10M524.05 27.00V23.40M524.05 264.90V268.50M404.70 146.00H400.70M643.50 146.00H647.10M535.30 27.00V23.40M535.30 264.90V268.50M404.70 157.22H400.70M643.50 157.22H647.10M546.54 27.00V23.40M546.54 264.90V268.50M404.70 168.44H400.70M643.50 168.44H647.10M557.79 27.00V23.40M557.79 264.90V268.50M404.70 179.66H400.70M643.50 179.66H647.10M569.03 27.00V23.40M569.03 264.90V268.50M404.70 190.88H400.70M643.50 190.88H647.10M580.27 27.00V23.40M580.27 264.90V268.50M404.70 202.10H400.70M643.50 202.10H647.10M591.52 27.00V23.40M591.52 264.90V268.50M404.70 213.32H400.70M643.50 213.32H647.10M602.76 27.00V23.40M602.76 264.90V268.50M404.70 224.54H400.70M643.50 224.54H647.10M614.01 27.00V23.40M614.01 264.90V268.50M404.70 235.76H400.70M643.50 235.76H647.10M625.25 27.00V23.40M625.25 264.90V268.50M404.70 246.98H400.70M643.50 246.98H647.10M636.50 27.00V23.40M636.50 264.90V268.50M404.70 258.20H400.70M643.50 258.20H647.10" stroke="#5a5a5a" stroke-width="1" fill="none"/>
<text x="396.60" y="37.80" text-anchor="end" font-size="10.2" fill="#000">0.9</text>
<text x="396.60" y="49.02" text-anchor="end" font-size="10.2" fill="#000">0.855</text>
<text x="396.60" y="60.24" text-anchor="end" font-size="10.2" fill="#000">0.81</text>
<text x="396.60" y="71.46" text-anchor="end" font-size="10.2" fill="#000">0.765</text>
<text x="396.60" y="82.68" text-anchor="end" font-size="10.2" fill="#000">0.72</text>
<text x="396.60" y="93.90" text-anchor="end" font-size="10.2" fill="#000">0.675</text>
<text x="396.60" y="105.12" text-anchor="end" font-size="10.2" fill="#000">0.63</text>
<text x="396.60" y="116.34" text-anchor="end" font-size="10.2" fill="#000">0.585</text>
<text x="396.60" y="127.56" text-anchor="end" font-size="10.2" fill="#000">0.54</text>
<text x="396.60" y="138.78" text-anchor="end" font-size="10.2" fill="#000">0.495</text>
<text x="396.60" y="150.00" text-anchor="end" font-size="10.2" fill="#000">0.45</text>
<text x="396.60" y="161.22" text-anchor="end" font-size="10.2" fill="#000">0.405</text>
<text x="396.60" y="172.44" text-anchor="end" font-size="10.2" fill="#000">0.36</text>
<text x="396.60" y="183.66" text-anchor="end" font-size="10.2" fill="#000">0.315</text>
<text x="396.60" y="194.88" text-anchor="end" font-size="10.2" fill="#000">0.27</text>
<text x="396.60" y="206.10" text-anchor="end" font-size="10.2" fill="#000">0.225</text>
<text x="396.60" y="217.32" text-anchor="end" font-size="10.2" fill="#000">0.18</text>
<text x="396.60" y="228.54" text-anchor="end" font-size="10.2" fill="#000">0.135</text>
<text x="396.60" y="239.76" text-anchor="end" font-size="10.2" fill="#000">0.09</text>
<text x="396.60" y="250.98" text-anchor="end" font-size="10.2" fill="#000">0.045</text>
<text x="396.60" y="262.20" text-anchor="end" font-size="10.2" fill="#000">0</text>
<text transform="translate(416.20,273.00) rotate(-90)" text-anchor="end" font-size="10.2" fill="#000">0</text>
<text transform="translate(427.45,273.00) rotate(-90)" text-anchor="end" font-size="10.2" fill="#000">45</text>
<text transform="translate(438.69,273.00) rotate(-90)" text-anchor="end" font-size="10.2" fill="#000">90</text>
<text transform="translate(449.94,273.00) rotate(-90)" text-anchor="end" font-size="10.2" fill="#000">135</text>
<text transform="translate(461.18,273.00) rotate(-90)" text-anchor="end" font-size="10.2" fill="#000">180</text>
<text transform="translate(472.43,273.00) rotate(-90)" text-anchor="end" font-size="10.2" fill="#000">225</text>
<text transform="translate(483.67,273.00) rotate(-90)" text-anchor="end" font-size="10.2" fill="#000">270</text>
<text transform="translate(494.92,273.00) rotate(-90)" text-anchor="end" font-size="10.2" fill="#000">315</text>
<text transform="translate(506.16,273.00) rotate(-90)" text-anchor="end" font-size="10.2" fill="#000">360</text>
<text transform="translate(517.41,273.00) rotate(-90)" text-anchor="end" font-size="10.2" fill="#000">405</text>
<text transform="translate(528.65,273.00) rotate(-90)" text-anchor="end" font-size="10.2" fill="#000">450</text>
<text transform="translate(539.90,273.00) rotate(-90)" text-anchor="end" font-size="10.2" fill="#000">495</text>
<text transform="translate(551.14,273.00) rotate(-90)" text-anchor="end" font-size="10.2" fill="#000">540</text>
<text transform="translate(562.39,273.00) rotate(-90)" text-anchor="end" font-size="10.2" fill="#000">585</text>
<text transform="translate(573.63,273.00) rotate(-90)" text-anchor="end" font-size="10.2" fill="#000">630</text>
<text transform="translate(584.88,273.00) rotate(-90)" text-anchor="end" font-size="10.2" fill="#000">675</text>
<text transform="translate(596.12,273.00) rotate(-90)" text-anchor="end" font-size="10.2" fill="#000">720</text>
<text transform="translate(607.37,273.00) rotate(-90)" text-anchor="end" font-size="10.2" fill="#000">765</text>
<text transform="translate(618.61,273.00) rotate(-90)" text-anchor="end" font-size="10.2" fill="#000">810</text>
<text transform="translate(629.86,273.00) rotate(-90)" text-anchor="end" font-size="10.2" fill="#000">855</text>
<text transform="translate(641.10,273.00) rotate(-90)" text-anchor="end" font-size="10.2" fill="#000">900</text>
<text x="374.40" y="7.70" font-size="9.6" font-weight="bold" fill="#000">Difference in number of alleles after 50 generations (immediate)</text>
<text transform="translate(363.30,146.20) scale(1.025,1) rotate(-90)" text-anchor="middle" font-size="11.75" fill="#000">Rate of change of escape probability</text>
<text x="523.50" y="307.00" text-anchor="middle" font-size="11.95" fill="#000">Number of prey removed per time step</text>
<rect x="658.50" y="249.53" width="11.10" height="15.37" fill="#00A600"/>
<rect x="658.50" y="234.66" width="11.10" height="15.37" fill="#19AF00"/>
<rect x="658.50" y="219.79" width="11.10" height="15.37" fill="#35B800"/>
<rect x="658.50" y="204.92" width="11.10" height="15.37" fill="#53C100"/>
<rect x="658.50" y="190.06" width="11.10" height="15.37" fill="#74CA00"/>
<rect x="658.50" y="175.19" width="11.10" height="15.37" fill="#97D300"/>
<rect x="658.50" y="160.32" width="11.10" height="15.37" fill="#BDDC00"/>
<rect x="658.50" y="145.45" width="11.10" height="15.37" fill="#E6E600"/>
<rect x="658.50" y="130.58" width="11.10" height="15.37" fill="#E7CE1D"/>
<rect x="658.50" y="115.71" width="11.10" height="15.37" fill="#E9BD3A"/>
<rect x="658.50" y="100.84" width="11.10" height="15.37" fill="#EAB358"/>
<rect x="658.50" y="85.97" width="11.10" height="15.37" fill="#ECB176"/>
<rect x="658.50" y="71.11" width="11.10" height="15.37" fill="#EDB694"/>
<rect x="658.50" y="56.24" width="11.10" height="15.37" fill="#EFC2B3"/>
<rect x="658.50" y="41.37" width="11.10" height="15.37" fill="#F1D6D3"/>
<rect x="658.50" y="27.00" width="11.10" height="14.87" fill="#F2F2F2"/>
<rect x="658.50" y="27.00" width="11.10" height="237.90" fill="none" stroke="#5a5a5a" stroke-width="1"/>
<text transform="translate(675.50,48.08) scale(0.92,1)" font-size="8.6" font-weight="bold" fill="#000">10</text>
<text transform="translate(675.50,77.84) scale(0.92,1)" font-size="8.6" font-weight="bold" fill="#000">8</text>
<text transform="translate(675.50,107.60) scale(0.92,1)" font-size="8.6" font-weight="bold" fill="#000">6</text>
<text transform="translate(675.50,137.36) scale(0.92,1)" font-size="8.6" font-weight="bold" fill="#000">4</text>
<text transform="translate(675.50,167.12) scale(0.92,1)" font-size="8.6" font-weight="bold" fill="#000">2</text>
<text transform="translate(675.50,196.88) scale(0.92,1)" font-size="8.6" font-weight="bold" fill="#000">0</text>
<text transform="translate(675.50,226.64) scale(0.92,1)" font-size="8.6" font-weight="bold" fill="#000">-2</text>
<text transform="translate(675.50,256.40) scale(0.92,1)" font-size="8.6" font-weight="bold" fill="#000">-4</text>
<path d="M669.60 44.78H672.80M669.60 74.54H672.80M669.60 104.30H672.80M669.60 134.06H672.80M669.60 163.82H672.80M669.60 193.58H672.80M669.60 223.34H672.80M669.60 253.10H672.80" stroke="#5a5a5a" stroke-width="1" fill="none"/>
</svg>
</body></html>
